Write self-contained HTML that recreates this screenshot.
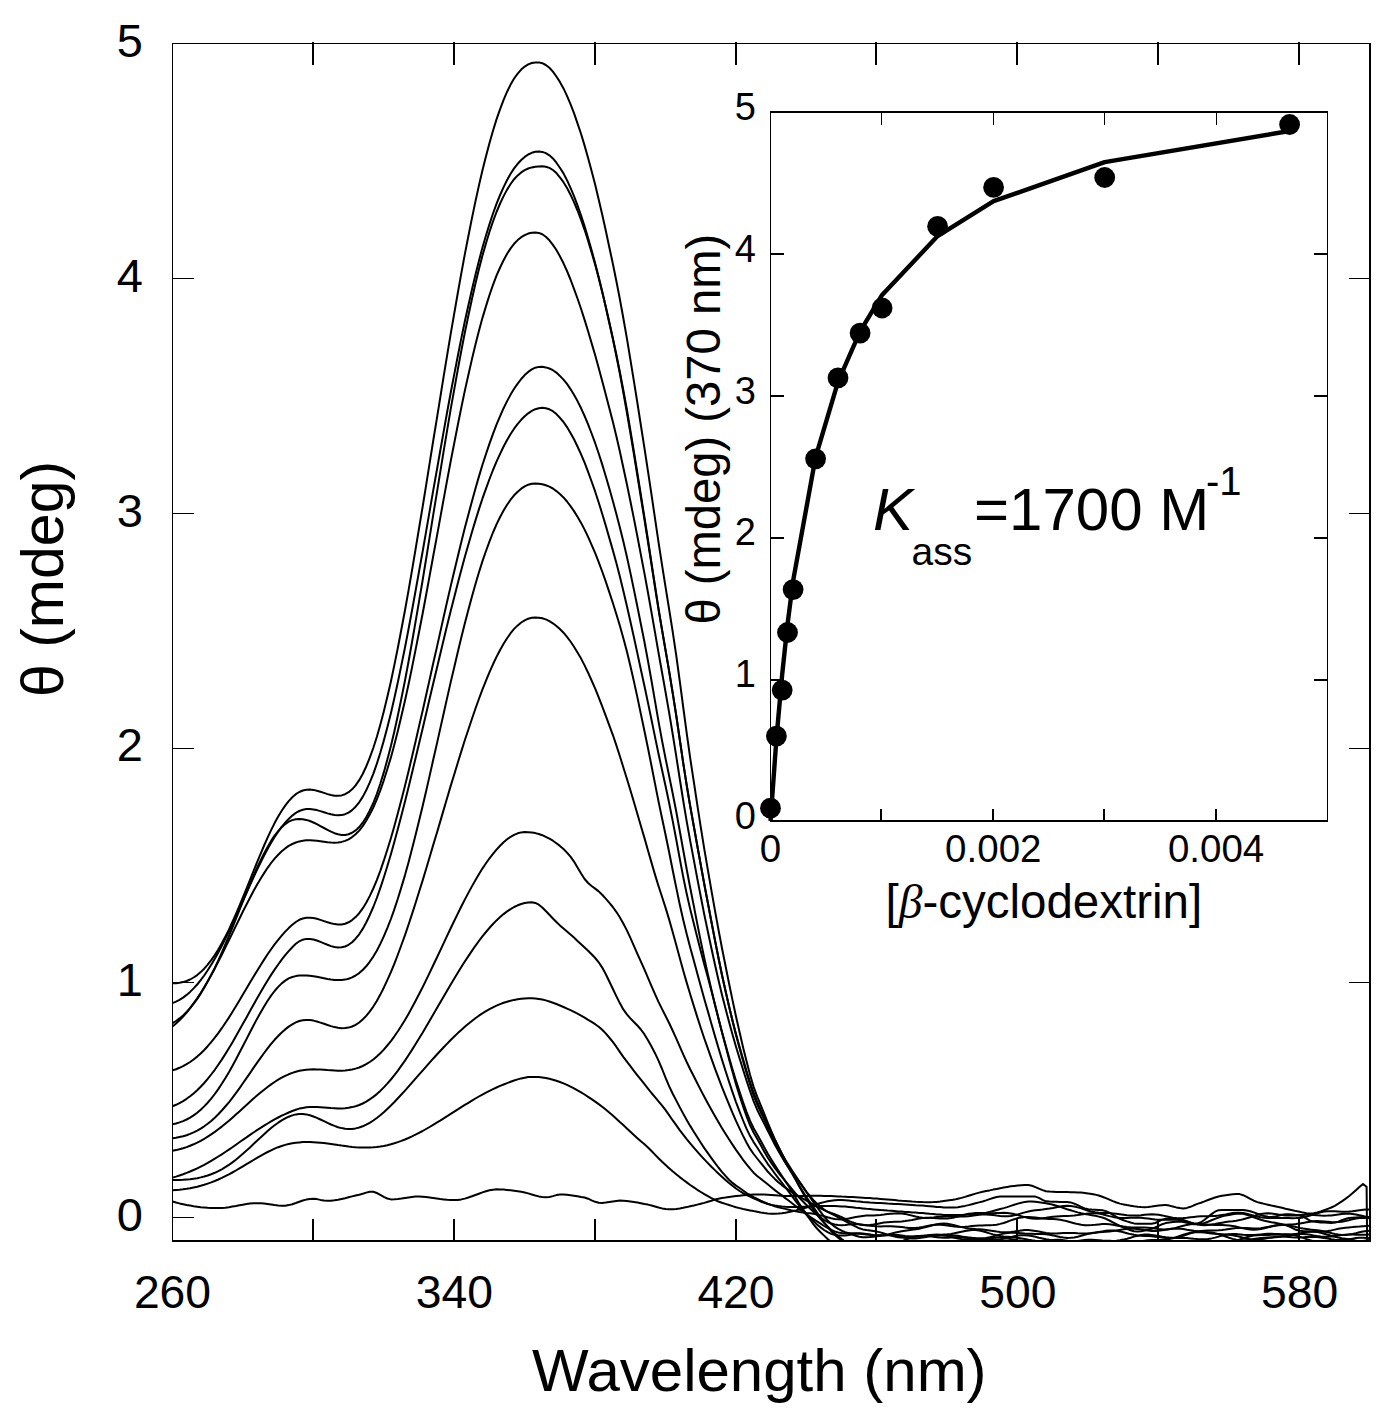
<!DOCTYPE html>
<html><head><meta charset="utf-8"><style>
html,body{margin:0;padding:0;background:#fff;}
body{width:1397px;height:1408px;overflow:hidden;}
svg{display:block;}
text{font-family:"Liberation Sans",sans-serif;fill:#000;}
</style></head><body>
<svg width="1397" height="1408" viewBox="0 0 1397 1408">
<defs><clipPath id="pc"><rect x="172" y="43" width="1198" height="1198"/></clipPath></defs>
<rect x="0" y="0" width="1397" height="1408" fill="#fff"/>
<g clip-path="url(#pc)" fill="none" stroke="#000" stroke-width="2" stroke-linejoin="round">
<path d="M172.5,983.2 L176.0,983.2 L179.5,982.8 L183.1,982.1 L186.6,981.0 L190.1,979.5 L193.6,977.5 L197.2,975.1 L200.7,972.1 L204.2,968.7 L207.7,964.7 L211.2,960.1 L214.8,955.1 L218.3,949.5 L221.8,943.3 L225.3,936.7 L228.9,929.6 L232.4,922.0 L235.9,914.1 L239.4,905.8 L242.9,897.3 L246.5,888.7 L250.0,879.9 L253.5,871.1 L257.0,862.4 L260.6,853.8 L264.1,845.5 L267.6,837.6 L271.1,830.1 L274.6,823.1 L278.2,816.6 L281.7,810.8 L285.2,805.6 L288.7,801.1 L292.3,797.3 L295.8,794.2 L299.3,792.0 L302.8,790.5 L306.3,789.7 L309.9,789.6 L313.4,789.9 L316.9,790.7 L320.4,791.8 L324.0,792.9 L327.5,794.1 L331.0,795.0 L334.5,795.7 L338.0,795.8 L341.6,795.4 L345.1,794.2 L348.6,792.2 L352.1,789.3 L355.6,785.3 L359.2,780.2 L362.7,774.0 L366.2,766.5 L369.7,757.9 L373.3,748.0 L376.8,737.0 L380.3,724.7 L383.8,711.4 L387.3,696.9 L390.9,681.4 L394.4,664.9 L397.9,647.5 L401.4,629.2 L405.0,610.2 L408.5,590.6 L412.0,570.3 L415.5,549.6 L419.0,528.5 L422.6,507.0 L426.1,485.3 L429.6,463.4 L433.1,441.5 L436.7,419.6 L440.2,397.8 L443.7,376.2 L447.2,354.8 L450.7,333.8 L454.3,313.1 L457.8,293.0 L461.3,273.4 L464.8,254.4 L468.4,236.0 L471.9,218.4 L475.4,201.6 L478.9,185.6 L482.4,170.5 L486.0,156.3 L489.5,143.0 L493.0,130.7 L496.5,119.4 L500.1,109.1 L503.6,99.9 L507.1,91.7 L510.6,84.6 L514.1,78.5 L517.7,73.6 L521.2,69.6 L524.7,66.6 L528.2,64.4 L531.8,63.0 L535.3,62.4 L538.8,62.4 L542.3,63.2 L545.8,65.0 L549.4,67.8 L552.9,71.6 L556.4,76.5 L559.9,81.9 L563.5,88.4 L567.0,95.9 L570.5,104.1 L574.0,113.2 L577.5,123.3 L581.1,134.0 L584.6,145.6 L588.1,158.0 L591.6,171.0 L595.2,184.8 L598.7,199.4 L602.2,214.5 L605.7,230.3 L609.2,246.7 L612.8,263.5 L616.3,280.7 L619.8,298.7 L623.3,318.0 L626.9,338.4 L630.4,359.6 L633.9,381.1 L637.4,403.0 L640.9,425.5 L644.5,448.3 L648.0,471.3 L651.5,494.7 L655.0,518.4 L658.5,542.1 L662.1,565.3 L665.6,587.4 L669.1,609.0 L672.6,631.2 L676.2,655.1 L679.7,680.7 L683.2,707.0 L686.7,733.1 L690.2,758.1 L693.8,781.7 L697.3,804.8 L700.8,827.3 L704.3,849.1 L707.9,870.2 L711.4,890.4 L714.9,910.1 L718.4,929.2 L721.9,947.7 L725.5,965.7 L729.0,983.2 L732.5,1000.1 L736.0,1016.5 L739.6,1032.3 L743.1,1047.4 L746.6,1061.6 L750.1,1075.0 L753.6,1086.9 L757.2,1096.6 L760.7,1105.2 L764.2,1113.7 L767.7,1122.6 L771.3,1131.2 L774.8,1139.2 L778.3,1146.6 L781.8,1153.7 L785.3,1160.4 L788.9,1166.8 L792.4,1173.3 L795.9,1180.0 L799.4,1186.7 L803.0,1193.1 L806.5,1199.0 L810.0,1204.5 L813.5,1209.8 L817.0,1214.7 L820.6,1219.1 L824.1,1222.9 L827.6,1226.5 L831.1,1229.9 L834.7,1233.2 L838.2,1236.3 L841.7,1239.1 L845.2,1241.7 L848.7,1243.8 L852.3,1245.1 L855.8,1245.6 L859.3,1245.6 L862.8,1245.4 L866.4,1245.3 L869.9,1245.2 L873.4,1245.2 L876.9,1245.3 L880.4,1245.4 L884.0,1245.4 L887.5,1245.2 L891.0,1244.7 L894.5,1243.9 L898.1,1242.8 L901.6,1241.4 L905.1,1240.0 L908.6,1238.6 L912.1,1237.4 L915.7,1236.5 L919.2,1236.0 L922.7,1235.7 L926.2,1235.7 L929.8,1235.7 L933.3,1235.7 L936.8,1235.7 L940.3,1235.5 L943.8,1235.4 L947.4,1235.2 L950.9,1235.2 L954.4,1235.4 L957.9,1235.8 L961.5,1236.5 L965.0,1237.2 L968.5,1238.0 L972.0,1238.7 L975.5,1239.1 L979.1,1239.2 L982.6,1239.1 L986.1,1238.7 L989.6,1238.3 L993.1,1237.9 L996.7,1237.6 L1000.2,1237.6 L1003.7,1237.9 L1007.2,1238.4 L1010.8,1239.1 L1014.3,1239.7 L1017.8,1240.3 L1021.3,1240.7 L1024.8,1240.9 L1028.4,1241.1 L1031.9,1241.1 L1035.4,1241.3 L1038.9,1241.6 L1042.5,1242.0 L1046.0,1242.6 L1049.5,1243.3 L1053.0,1243.9 L1056.5,1244.3 L1060.1,1244.4 L1063.6,1244.2 L1067.1,1243.7 L1070.6,1242.9 L1074.2,1242.0 L1077.7,1241.1 L1081.2,1240.4 L1084.7,1239.9 L1088.2,1239.7 L1091.8,1239.8 L1095.3,1240.0 L1098.8,1240.3 L1102.3,1240.6 L1105.9,1240.7 L1109.4,1240.8 L1112.9,1240.9 L1116.4,1241.0 L1119.9,1241.2 L1123.5,1241.7 L1127.0,1242.4 L1130.5,1243.4 L1134.0,1244.4 L1137.6,1245.5 L1141.1,1246.3 L1144.6,1247.0 L1148.1,1247.2 L1151.6,1247.1 L1155.2,1246.8 L1158.7,1246.2 L1162.2,1245.6 L1165.7,1245.0 L1169.3,1244.6 L1172.8,1244.4 L1176.3,1244.4 L1179.8,1244.3 L1183.3,1244.3 L1186.9,1244.1 L1190.4,1243.8 L1193.9,1243.2 L1197.4,1242.6 L1201.0,1242.0 L1204.5,1241.5 L1208.0,1241.1 L1211.5,1241.0 L1215.0,1241.1 L1218.6,1241.4 L1222.1,1241.6 L1225.6,1241.7 L1229.1,1241.6 L1232.7,1241.1 L1236.2,1240.4 L1239.7,1239.4 L1243.2,1238.3 L1246.7,1237.3 L1250.3,1236.3 L1253.8,1235.6 L1257.3,1235.2 L1260.8,1235.0 L1264.4,1234.9 L1267.9,1234.9 L1271.4,1234.8 L1274.9,1234.7 L1278.4,1234.6 L1282.0,1234.4 L1285.5,1234.3 L1289.0,1234.5 L1292.5,1234.9 L1296.0,1235.6 L1299.6,1236.6 L1303.1,1237.9 L1306.6,1239.1 L1310.1,1240.3 L1313.7,1241.2 L1317.2,1241.8 L1320.7,1242.1 L1324.2,1242.1 L1327.7,1241.9 L1331.3,1241.6 L1334.8,1241.4 L1338.3,1241.3 L1341.8,1241.3 L1345.4,1241.5 L1348.9,1241.6 L1352.4,1241.7 L1355.9,1241.7 L1359.4,1241.4 L1363.0,1241.1 L1366.5,1240.6 L1370.0,1240.1"/>
<path d="M172.5,1003.2 L176.0,1001.7 L179.5,999.8 L183.1,997.6 L186.6,994.9 L190.1,991.9 L193.6,988.4 L197.2,984.5 L200.7,980.2 L204.2,975.5 L207.7,970.3 L211.2,964.7 L214.8,958.8 L218.3,952.4 L221.8,945.7 L225.3,938.8 L228.9,931.5 L232.4,924.0 L235.9,916.3 L239.4,908.6 L242.9,900.7 L246.5,892.8 L250.0,885.0 L253.5,877.4 L257.0,869.9 L260.6,862.6 L264.1,855.6 L267.6,849.0 L271.1,842.8 L274.6,837.0 L278.2,831.7 L281.7,826.9 L285.2,822.7 L288.7,818.9 L292.3,815.6 L295.8,812.9 L299.3,811.0 L302.8,809.7 L306.3,809.1 L309.9,809.0 L313.4,809.4 L316.9,810.1 L320.4,811.1 L324.0,812.2 L327.5,813.4 L331.0,814.3 L334.5,815.0 L338.0,815.3 L341.6,815.1 L345.1,814.2 L348.6,812.6 L352.1,810.1 L355.6,806.7 L359.2,802.3 L362.7,796.9 L366.2,790.3 L369.7,782.7 L373.3,773.8 L376.8,763.9 L380.3,752.8 L383.8,740.6 L387.3,727.4 L390.9,713.2 L394.4,698.0 L397.9,682.0 L401.4,665.1 L405.0,647.5 L408.5,629.3 L412.0,610.5 L415.5,591.2 L419.0,571.6 L422.6,551.7 L426.1,531.6 L429.6,511.4 L433.1,491.2 L436.7,471.0 L440.2,451.0 L443.7,431.3 L447.2,411.8 L450.7,392.7 L454.3,374.1 L457.8,356.0 L461.3,338.4 L464.8,321.5 L468.4,305.3 L471.9,289.7 L475.4,275.0 L478.9,261.0 L482.4,247.8 L486.0,235.5 L489.5,224.1 L493.0,213.5 L496.5,203.8 L500.1,195.0 L503.6,187.1 L507.1,180.0 L510.6,173.8 L514.1,168.4 L517.7,163.8 L521.2,160.0 L524.7,156.9 L528.2,154.5 L531.8,152.8 L535.3,151.8 L538.8,151.5 L542.3,151.9 L545.8,153.1 L549.4,155.3 L552.9,158.4 L556.4,162.7 L559.9,167.7 L563.5,173.4 L567.0,180.2 L570.5,187.8 L574.0,196.1 L577.5,205.4 L581.1,215.5 L584.6,226.3 L588.1,238.0 L591.6,250.3 L595.2,263.4 L598.7,277.2 L602.2,291.6 L605.7,306.7 L609.2,322.5 L612.8,338.8 L616.3,355.5 L619.8,373.2 L623.3,392.4 L626.9,412.5 L630.4,433.2 L633.9,454.2 L637.4,475.8 L640.9,497.7 L644.5,519.9 L648.0,542.1 L651.5,564.7 L655.0,587.3 L658.5,609.3 L662.1,630.4 L665.6,650.5 L669.1,670.8 L672.6,692.3 L676.2,715.4 L679.7,739.2 L683.2,762.8 L686.7,785.2 L690.2,806.0 L693.8,826.1 L697.3,845.7 L700.8,865.1 L704.3,884.2 L707.9,903.1 L711.4,921.7 L714.9,940.0 L718.4,957.7 L721.9,974.7 L725.5,990.9 L729.0,1006.1 L732.5,1020.4 L736.0,1034.0 L739.6,1047.0 L743.1,1059.3 L746.6,1071.0 L750.1,1082.2 L753.6,1092.7 L757.2,1101.8 L760.7,1109.6 L764.2,1116.8 L767.7,1124.4 L771.3,1132.3 L774.8,1139.8 L778.3,1146.8 L781.8,1153.5 L785.3,1159.7 L788.9,1165.5 L792.4,1171.0 L795.9,1176.3 L799.4,1181.6 L803.0,1186.9 L806.5,1192.2 L810.0,1197.2 L813.5,1202.1 L817.0,1207.0 L820.6,1211.9 L824.1,1216.5 L827.6,1220.5 L831.1,1223.8 L834.7,1226.6 L838.2,1228.9 L841.7,1230.7 L845.2,1232.1 L848.7,1233.3 L852.3,1234.5 L855.8,1235.7 L859.3,1236.7 L862.8,1237.3 L866.4,1237.3 L869.9,1237.1 L873.4,1236.8 L876.9,1236.3 L880.4,1235.8 L884.0,1235.4 L887.5,1235.2 L891.0,1235.3 L894.5,1235.6 L898.1,1236.3 L901.6,1237.0 L905.1,1237.7 L908.6,1238.2 L912.1,1238.5 L915.7,1238.4 L919.2,1238.1 L922.7,1237.5 L926.2,1236.9 L929.8,1236.2 L933.3,1235.6 L936.8,1235.2 L940.3,1234.9 L943.8,1234.6 L947.4,1234.3 L950.9,1233.9 L954.4,1233.3 L957.9,1232.6 L961.5,1231.8 L965.0,1231.0 L968.5,1230.4 L972.0,1230.1 L975.5,1230.1 L979.1,1230.5 L982.6,1231.3 L986.1,1232.3 L989.6,1233.4 L993.1,1234.4 L996.7,1235.3 L1000.2,1236.0 L1003.7,1236.5 L1007.2,1236.8 L1010.8,1237.1 L1014.3,1237.4 L1017.8,1237.8 L1021.3,1238.4 L1024.8,1239.0 L1028.4,1239.7 L1031.9,1240.3 L1035.4,1240.7 L1038.9,1240.9 L1042.5,1240.8 L1046.0,1240.5 L1049.5,1240.2 L1053.0,1239.9 L1056.5,1239.7 L1060.1,1239.8 L1063.6,1240.2 L1067.1,1240.8 L1070.6,1241.6 L1074.2,1242.4 L1077.7,1243.0 L1081.2,1243.4 L1084.7,1243.5 L1088.2,1243.3 L1091.8,1243.0 L1095.3,1242.5 L1098.8,1242.1 L1102.3,1241.7 L1105.9,1241.4 L1109.4,1241.2 L1112.9,1241.0 L1116.4,1240.8 L1119.9,1240.3 L1123.5,1239.6 L1127.0,1238.7 L1130.5,1237.7 L1134.0,1236.6 L1137.6,1235.7 L1141.1,1234.9 L1144.6,1234.5 L1148.1,1234.5 L1151.6,1234.9 L1155.2,1235.4 L1158.7,1236.1 L1162.2,1236.8 L1165.7,1237.3 L1169.3,1237.6 L1172.8,1237.8 L1176.3,1237.9 L1179.8,1237.9 L1183.3,1237.9 L1186.9,1238.1 L1190.4,1238.4 L1193.9,1238.8 L1197.4,1239.1 L1201.0,1239.3 L1204.5,1239.3 L1208.0,1239.0 L1211.5,1238.4 L1215.0,1237.6 L1218.6,1236.6 L1222.1,1235.6 L1225.6,1234.8 L1229.1,1234.3 L1232.7,1234.1 L1236.2,1234.1 L1239.7,1234.4 L1243.2,1234.7 L1246.7,1234.9 L1250.3,1235.0 L1253.8,1235.0 L1257.3,1234.7 L1260.8,1234.4 L1264.4,1234.1 L1267.9,1233.8 L1271.4,1233.8 L1274.9,1233.9 L1278.4,1234.1 L1282.0,1234.4 L1285.5,1234.6 L1289.0,1234.6 L1292.5,1234.4 L1296.0,1234.0 L1299.6,1233.4 L1303.1,1232.7 L1306.6,1232.1 L1310.1,1231.8 L1313.7,1231.8 L1317.2,1232.1 L1320.7,1232.8 L1324.2,1233.7 L1327.7,1234.7 L1331.3,1235.8 L1334.8,1236.7 L1338.3,1237.5 L1341.8,1238.2 L1345.4,1238.7 L1348.9,1239.3 L1352.4,1239.9 L1355.9,1240.7 L1359.4,1241.5 L1363.0,1242.5 L1366.5,1243.3 L1370.0,1244.1"/>
<path d="M172.5,1023.1 L176.0,1021.0 L179.5,1018.4 L183.1,1015.4 L186.6,1012.0 L190.1,1008.1 L193.6,1003.7 L197.2,998.9 L200.7,993.6 L204.2,987.8 L207.7,981.6 L211.2,975.0 L214.8,967.9 L218.3,960.5 L221.8,952.6 L225.3,944.5 L228.9,936.2 L232.4,927.6 L235.9,918.9 L239.4,910.2 L242.9,901.4 L246.5,892.7 L250.0,884.2 L253.5,876.0 L257.0,868.0 L260.6,860.5 L264.1,853.4 L267.6,846.9 L271.1,840.9 L274.6,835.6 L278.2,831.1 L281.7,827.2 L285.2,824.1 L288.7,821.7 L292.3,820.1 L295.8,819.2 L299.3,818.9 L302.8,819.2 L306.3,819.9 L309.9,821.0 L313.4,822.5 L316.9,824.2 L320.4,826.1 L324.0,828.0 L327.5,829.9 L331.0,831.7 L334.5,833.2 L338.0,834.3 L341.6,834.9 L345.1,834.9 L348.6,834.2 L352.1,832.8 L355.6,830.4 L359.2,827.1 L362.7,822.7 L366.2,817.3 L369.7,810.7 L373.3,803.0 L376.8,794.0 L380.3,783.8 L383.8,772.4 L387.3,759.8 L390.9,746.1 L394.4,731.2 L397.9,715.3 L401.4,698.4 L405.0,680.5 L408.5,661.8 L412.0,642.3 L415.5,622.2 L419.0,601.6 L422.6,580.5 L426.1,559.0 L429.6,537.4 L433.1,515.6 L436.7,493.9 L440.2,472.3 L443.7,450.9 L447.2,429.8 L450.7,409.2 L454.3,389.1 L457.8,369.6 L461.3,350.8 L464.8,332.8 L468.4,315.5 L471.9,299.2 L475.4,283.7 L478.9,269.3 L482.4,255.8 L486.0,243.3 L489.5,231.8 L493.0,221.4 L496.5,212.0 L500.1,203.5 L503.6,196.1 L507.1,189.6 L510.6,184.0 L514.1,179.2 L517.7,175.4 L521.2,172.4 L524.7,170.1 L528.2,168.5 L531.8,167.4 L535.3,166.7 L538.8,166.4 L542.3,166.3 L545.8,166.7 L549.4,167.9 L552.9,170.0 L556.4,173.1 L559.9,177.3 L563.5,182.2 L567.0,187.9 L570.5,194.7 L574.0,202.2 L577.5,210.5 L581.1,219.8 L584.6,229.8 L588.1,240.7 L591.6,252.4 L595.2,264.8 L598.7,278.0 L602.2,291.9 L605.7,306.5 L609.2,321.8 L612.8,337.9 L616.3,354.5 L619.8,371.6 L623.3,390.0 L626.9,409.7 L630.4,430.4 L633.9,451.6 L637.4,473.1 L640.9,495.2 L644.5,517.6 L648.0,540.0 L651.5,562.8 L655.0,585.7 L658.5,608.3 L662.1,630.1 L665.6,650.7 L669.1,671.1 L672.6,692.3 L676.2,715.2 L679.7,739.0 L683.2,762.8 L686.7,785.4 L690.2,806.4 L693.8,826.3 L697.3,845.8 L700.8,865.1 L704.3,884.2 L707.9,903.1 L711.4,921.6 L714.9,939.8 L718.4,957.4 L721.9,974.5 L725.5,990.8 L729.0,1006.2 L732.5,1020.9 L736.0,1034.9 L739.6,1048.3 L743.1,1061.0 L746.6,1073.1 L750.1,1084.6 L753.6,1095.3 L757.2,1104.4 L760.7,1112.2 L764.2,1119.5 L767.7,1127.3 L771.3,1135.2 L774.8,1142.6 L778.3,1149.6 L781.8,1156.2 L785.3,1162.4 L788.9,1168.4 L792.4,1174.2 L795.9,1180.0 L799.4,1186.0 L803.0,1191.8 L806.5,1197.3 L810.0,1202.4 L813.5,1207.4 L817.0,1212.4 L820.6,1217.5 L824.1,1222.3 L827.6,1226.8 L831.1,1231.0 L834.7,1234.7 L838.2,1237.8 L841.7,1240.1 L845.2,1241.6 L848.7,1242.6 L852.3,1243.1 L855.8,1243.4 L859.3,1243.4 L862.8,1243.1 L866.4,1243.0 L869.9,1243.1 L873.4,1243.3 L876.9,1243.4 L880.4,1243.5 L884.0,1243.5 L887.5,1243.3 L891.0,1243.0 L894.5,1242.7 L898.1,1242.6 L901.6,1242.6 L905.1,1242.9 L908.6,1243.3 L912.1,1243.9 L915.7,1244.5 L919.2,1244.9 L922.7,1245.1 L926.2,1245.0 L929.8,1244.6 L933.3,1244.0 L936.8,1243.3 L940.3,1242.7 L943.8,1242.2 L947.4,1242.0 L950.9,1242.1 L954.4,1242.5 L957.9,1243.0 L961.5,1243.5 L965.0,1244.0 L968.5,1244.5 L972.0,1244.8 L975.5,1245.1 L979.1,1245.5 L982.6,1246.0 L986.1,1246.7 L989.6,1247.6 L993.1,1248.8 L996.7,1250.1 L1000.2,1251.3 L1003.7,1252.3 L1007.2,1253.1 L1010.8,1253.4 L1014.3,1253.4 L1017.8,1253.0 L1021.3,1252.5 L1024.8,1251.9 L1028.4,1251.3 L1031.9,1250.8 L1035.4,1250.5 L1038.9,1250.3 L1042.5,1250.1 L1046.0,1249.9 L1049.5,1249.5 L1053.0,1249.0 L1056.5,1248.3 L1060.1,1247.6 L1063.6,1246.9 L1067.1,1246.3 L1070.6,1245.9 L1074.2,1245.8 L1077.7,1246.0 L1081.2,1246.3 L1084.7,1246.7 L1088.2,1246.9 L1091.8,1247.0 L1095.3,1246.8 L1098.8,1246.3 L1102.3,1245.5 L1105.9,1244.7 L1109.4,1243.9 L1112.9,1243.2 L1116.4,1242.7 L1119.9,1242.4 L1123.5,1242.4 L1127.0,1242.4 L1130.5,1242.5 L1134.0,1242.4 L1137.6,1242.3 L1141.1,1242.1 L1144.6,1241.8 L1148.1,1241.6 L1151.6,1241.6 L1155.2,1241.9 L1158.7,1242.4 L1162.2,1243.2 L1165.7,1244.1 L1169.3,1245.1 L1172.8,1246.0 L1176.3,1246.6 L1179.8,1246.9 L1183.3,1246.9 L1186.9,1246.5 L1190.4,1246.0 L1193.9,1245.4 L1197.4,1244.9 L1201.0,1244.4 L1204.5,1244.1 L1208.0,1243.9 L1211.5,1243.8 L1215.0,1243.6 L1218.6,1243.2 L1222.1,1242.7 L1225.6,1242.1 L1229.1,1241.4 L1232.7,1240.8 L1236.2,1240.4 L1239.7,1240.3 L1243.2,1240.5 L1246.7,1241.1 L1250.3,1241.9 L1253.8,1242.9 L1257.3,1243.8 L1260.8,1244.6 L1264.4,1245.1 L1267.9,1245.4 L1271.4,1245.5 L1274.9,1245.5 L1278.4,1245.5 L1282.0,1245.6 L1285.5,1245.8 L1289.0,1246.2 L1292.5,1246.8 L1296.0,1247.3 L1299.6,1247.8 L1303.1,1248.1 L1306.6,1248.2 L1310.1,1248.1 L1313.7,1248.0 L1317.2,1247.9 L1320.7,1247.9 L1324.2,1248.1 L1327.7,1248.6 L1331.3,1249.4 L1334.8,1250.3 L1338.3,1251.3 L1341.8,1252.2 L1345.4,1252.8 L1348.9,1253.1 L1352.4,1253.1 L1355.9,1252.8 L1359.4,1252.3 L1363.0,1251.7 L1366.5,1251.1 L1370.0,1250.6"/>
<path d="M172.5,1026.6 L176.0,1023.6 L179.5,1020.3 L183.1,1016.6 L186.6,1012.6 L190.1,1008.2 L193.6,1003.4 L197.2,998.4 L200.7,993.0 L204.2,987.2 L207.7,981.2 L211.2,974.9 L214.8,968.4 L218.3,961.6 L221.8,954.7 L225.3,947.6 L228.9,940.4 L232.4,933.1 L235.9,925.9 L239.4,918.7 L242.9,911.5 L246.5,904.5 L250.0,897.7 L253.5,891.0 L257.0,884.7 L260.6,878.7 L264.1,873.1 L267.6,867.8 L271.1,863.0 L274.6,858.6 L278.2,854.7 L281.7,851.3 L285.2,848.4 L288.7,845.9 L292.3,844.0 L295.8,842.5 L299.3,841.4 L302.8,840.7 L306.3,840.3 L309.9,840.3 L313.4,840.5 L316.9,840.8 L320.4,841.3 L324.0,841.8 L327.5,842.3 L331.0,842.6 L334.5,842.7 L338.0,842.5 L341.6,841.9 L345.1,840.9 L348.6,839.3 L352.1,837.1 L355.6,834.2 L359.2,830.6 L362.7,826.1 L366.2,820.8 L369.7,814.6 L373.3,807.5 L376.8,799.4 L380.3,790.3 L383.8,780.3 L387.3,769.3 L390.9,757.4 L394.4,744.5 L397.9,730.7 L401.4,716.1 L405.0,700.6 L408.5,684.5 L412.0,667.6 L415.5,650.1 L419.0,632.2 L422.6,613.7 L426.1,595.0 L429.6,575.9 L433.1,556.7 L436.7,537.4 L440.2,518.1 L443.7,498.9 L447.2,479.9 L450.7,461.2 L454.3,442.9 L457.8,425.0 L461.3,407.6 L464.8,390.9 L468.4,374.8 L471.9,359.4 L475.4,344.8 L478.9,331.0 L482.4,318.1 L486.0,306.1 L489.5,295.0 L493.0,284.9 L496.5,275.7 L500.1,267.5 L503.6,260.2 L507.1,253.8 L510.6,248.4 L514.1,243.8 L517.7,240.1 L521.2,237.2 L524.7,235.1 L528.2,233.6 L531.8,232.8 L535.3,232.5 L538.8,232.9 L542.3,234.3 L545.8,236.7 L549.4,240.3 L552.9,244.9 L556.4,250.0 L559.9,256.2 L563.5,263.3 L567.0,271.0 L570.5,279.5 L574.0,288.8 L577.5,298.5 L581.1,309.0 L584.6,319.9 L588.1,331.2 L591.6,343.1 L595.2,355.3 L598.7,367.9 L602.2,380.9 L605.7,394.2 L609.2,407.7 L612.8,421.5 L616.3,435.9 L619.8,451.3 L623.3,467.5 L626.9,484.2 L630.4,501.2 L633.9,518.6 L637.4,536.5 L640.9,554.9 L644.5,573.6 L648.0,592.7 L651.5,612.4 L655.0,632.4 L658.5,652.6 L662.1,672.7 L665.6,692.4 L669.1,712.4 L672.6,733.5 L676.2,755.9 L679.7,778.5 L683.2,800.5 L686.7,821.4 L690.2,840.9 L693.8,859.9 L697.3,878.6 L700.8,896.8 L704.3,914.6 L707.9,931.7 L711.4,948.3 L714.9,964.3 L718.4,979.7 L721.9,994.4 L725.5,1008.5 L729.0,1021.8 L732.5,1034.5 L736.0,1046.7 L739.6,1058.5 L743.1,1069.8 L746.6,1080.7 L750.1,1091.1 L753.6,1101.1 L757.2,1109.7 L760.7,1116.9 L764.2,1123.6 L767.7,1130.5 L771.3,1137.6 L774.8,1144.5 L778.3,1150.8 L781.8,1156.8 L785.3,1162.4 L788.9,1167.6 L792.4,1172.5 L795.9,1177.3 L799.4,1182.2 L803.0,1187.1 L806.5,1191.9 L810.0,1196.2 L813.5,1200.1 L817.0,1203.6 L820.6,1206.8 L824.1,1209.6 L827.6,1211.8 L831.1,1213.7 L834.7,1215.4 L838.2,1217.3 L841.7,1219.1 L845.2,1221.0 L848.7,1222.9 L852.3,1224.9 L855.8,1226.7 L859.3,1228.3 L862.8,1229.4 L866.4,1230.0 L869.9,1230.4 L873.4,1230.9 L876.9,1231.6 L880.4,1232.4 L884.0,1233.5 L887.5,1234.6 L891.0,1235.6 L894.5,1236.6 L898.1,1237.2 L901.6,1237.6 L905.1,1237.6 L908.6,1237.3 L912.1,1236.8 L915.7,1236.4 L919.2,1236.0 L922.7,1235.9 L926.2,1236.0 L929.8,1236.3 L933.3,1236.7 L936.8,1237.2 L940.3,1237.5 L943.8,1237.7 L947.4,1237.7 L950.9,1237.5 L954.4,1237.3 L957.9,1237.1 L961.5,1237.1 L965.0,1237.2 L968.5,1237.4 L972.0,1237.8 L975.5,1238.1 L979.1,1238.3 L982.6,1238.3 L986.1,1237.9 L989.6,1237.3 L993.1,1236.4 L996.7,1235.4 L1000.2,1234.4 L1003.7,1233.6 L1007.2,1233.0 L1010.8,1232.7 L1014.3,1232.8 L1017.8,1233.0 L1021.3,1233.3 L1024.8,1233.6 L1028.4,1233.8 L1031.9,1233.8 L1035.4,1233.9 L1038.9,1233.9 L1042.5,1234.0 L1046.0,1234.3 L1049.5,1234.7 L1053.0,1235.4 L1056.5,1236.2 L1060.1,1237.0 L1063.6,1237.5 L1067.1,1237.9 L1070.6,1237.8 L1074.2,1237.4 L1077.7,1236.7 L1081.2,1235.8 L1084.7,1234.8 L1088.2,1233.8 L1091.8,1233.1 L1095.3,1232.5 L1098.8,1232.2 L1102.3,1231.9 L1105.9,1231.7 L1109.4,1231.4 L1112.9,1231.0 L1116.4,1230.5 L1119.9,1229.9 L1123.5,1229.3 L1127.0,1228.9 L1130.5,1228.6 L1134.0,1228.7 L1137.6,1229.0 L1141.1,1229.5 L1144.6,1230.0 L1148.1,1230.5 L1151.6,1230.9 L1155.2,1230.9 L1158.7,1230.7 L1162.2,1230.3 L1165.7,1229.7 L1169.3,1229.2 L1172.8,1228.8 L1176.3,1228.7 L1179.8,1228.8 L1183.3,1229.1 L1186.9,1229.7 L1190.4,1230.2 L1193.9,1230.8 L1197.4,1231.2 L1201.0,1231.6 L1204.5,1231.9 L1208.0,1232.2 L1211.5,1232.6 L1215.0,1233.3 L1218.6,1234.2 L1222.1,1235.3 L1225.6,1236.5 L1229.1,1237.8 L1232.7,1238.9 L1236.2,1239.8 L1239.7,1240.3 L1243.2,1240.4 L1246.7,1240.1 L1250.3,1239.7 L1253.8,1239.1 L1257.3,1238.5 L1260.8,1238.0 L1264.4,1237.7 L1267.9,1237.5 L1271.4,1237.4 L1274.9,1237.2 L1278.4,1236.9 L1282.0,1236.5 L1285.5,1235.9 L1289.0,1235.2 L1292.5,1234.6 L1296.0,1234.1 L1299.6,1233.8 L1303.1,1233.9 L1306.6,1234.2 L1310.1,1234.8 L1313.7,1235.5 L1317.2,1236.1 L1320.7,1236.6 L1324.2,1236.8 L1327.7,1236.7 L1331.3,1236.4 L1334.8,1235.9 L1338.3,1235.4 L1341.8,1235.0 L1345.4,1234.7 L1348.9,1234.6 L1352.4,1234.6 L1355.9,1234.7 L1359.4,1234.8 L1363.0,1234.8 L1366.5,1234.7 L1370.0,1234.3"/>
<path d="M172.5,1070.3 L176.0,1069.2 L179.5,1067.8 L183.1,1066.2 L186.6,1064.2 L190.1,1062.0 L193.6,1059.5 L197.2,1056.6 L200.7,1053.5 L204.2,1050.0 L207.7,1046.2 L211.2,1042.1 L214.8,1037.7 L218.3,1033.1 L221.8,1028.2 L225.3,1023.0 L228.9,1017.6 L232.4,1012.0 L235.9,1006.3 L239.4,1000.5 L242.9,994.6 L246.5,988.6 L250.0,982.6 L253.5,976.7 L257.0,970.9 L260.6,965.2 L264.1,959.6 L267.6,954.3 L271.1,949.2 L274.6,944.3 L278.2,939.8 L281.7,935.6 L285.2,931.6 L288.7,928.1 L292.3,924.8 L295.8,922.0 L299.3,919.8 L302.8,918.5 L306.3,917.8 L309.9,917.7 L313.4,918.1 L316.9,918.8 L320.4,919.9 L324.0,921.1 L327.5,922.3 L331.0,923.3 L334.5,924.1 L338.0,924.5 L341.6,924.4 L345.1,923.7 L348.6,922.3 L352.1,920.1 L355.6,917.1 L359.2,913.2 L362.7,908.4 L366.2,902.7 L369.7,896.1 L373.3,888.5 L376.8,880.1 L380.3,870.8 L383.8,860.7 L387.3,849.8 L390.9,838.2 L394.4,826.0 L397.9,813.1 L401.4,799.7 L405.0,785.8 L408.5,771.4 L412.0,756.7 L415.5,741.7 L419.0,726.4 L422.6,710.9 L426.1,695.3 L429.6,679.6 L433.1,663.8 L436.7,648.1 L440.2,632.4 L443.7,616.8 L447.2,601.3 L450.7,586.1 L454.3,571.1 L457.8,556.5 L461.3,542.1 L464.8,528.1 L468.4,514.5 L471.9,501.4 L475.4,488.8 L478.9,476.6 L482.4,465.0 L486.0,454.0 L489.5,443.6 L493.0,433.8 L496.5,424.6 L500.1,416.1 L503.6,408.2 L507.1,401.1 L510.6,394.6 L514.1,388.8 L517.7,383.6 L521.2,379.0 L524.7,375.1 L528.2,371.9 L531.8,369.4 L535.3,367.7 L538.8,366.9 L542.3,366.8 L545.8,367.4 L549.4,368.5 L552.9,370.2 L556.4,372.6 L559.9,375.9 L563.5,379.6 L567.0,383.9 L570.5,389.1 L574.0,394.8 L577.5,401.1 L581.1,408.3 L584.6,416.0 L588.1,424.4 L591.6,433.5 L595.2,443.2 L598.7,453.5 L602.2,464.4 L605.7,476.0 L609.2,488.0 L612.8,500.7 L616.3,513.8 L619.8,527.2 L623.3,541.3 L626.9,556.7 L630.4,572.9 L633.9,589.6 L637.4,606.7 L640.9,624.3 L644.5,642.3 L648.0,661.1 L651.5,680.7 L655.0,701.1 L658.5,721.4 L662.1,740.9 L665.6,758.7 L669.1,775.7 L672.6,793.0 L676.2,811.3 L679.7,830.5 L683.2,850.0 L686.7,869.2 L690.2,887.7 L693.8,905.9 L697.3,923.9 L700.8,941.4 L704.3,958.3 L707.9,974.4 L711.4,989.8 L714.9,1004.4 L718.4,1018.4 L721.9,1031.9 L725.5,1044.8 L729.0,1057.2 L732.5,1069.2 L736.0,1080.7 L739.6,1091.7 L743.1,1102.2 L746.6,1112.1 L750.1,1120.9 L753.6,1128.2 L757.2,1134.5 L760.7,1140.7 L764.2,1147.2 L767.7,1153.5 L771.3,1159.4 L774.8,1165.0 L778.3,1170.5 L781.8,1175.8 L785.3,1181.1 L788.9,1186.5 L792.4,1192.3 L795.9,1198.1 L799.4,1203.9 L803.0,1209.3 L806.5,1214.6 L810.0,1219.5 L813.5,1224.3 L817.0,1228.5 L820.6,1232.2 L824.1,1235.6 L827.6,1238.9 L831.1,1241.9 L834.7,1244.7 L838.2,1247.2 L841.7,1249.4 L845.2,1251.1 L848.7,1251.9 L852.3,1252.0 L855.8,1251.7 L859.3,1251.3 L862.8,1251.0 L866.4,1250.8 L869.9,1250.8 L873.4,1251.0 L876.9,1251.2 L880.4,1251.4 L884.0,1251.5 L887.5,1251.2 L891.0,1250.6 L894.5,1249.7 L898.1,1248.5 L901.6,1247.2 L905.1,1245.9 L908.6,1244.8 L912.1,1243.9 L915.7,1243.3 L919.2,1242.9 L922.7,1242.7 L926.2,1242.6 L929.8,1242.5 L933.3,1242.3 L936.8,1242.0 L940.3,1241.8 L943.8,1241.6 L947.4,1241.6 L950.9,1241.9 L954.4,1242.5 L957.9,1243.4 L961.5,1244.4 L965.0,1245.5 L968.5,1246.5 L972.0,1247.2 L975.5,1247.7 L979.1,1247.8 L982.6,1247.6 L986.1,1247.3 L989.6,1246.9 L993.1,1246.6 L996.7,1246.5 L1000.2,1246.6 L1003.7,1246.8 L1007.2,1247.0 L1010.8,1247.3 L1014.3,1247.4 L1017.8,1247.3 L1021.3,1247.1 L1024.8,1246.8 L1028.4,1246.6 L1031.9,1246.4 L1035.4,1246.5 L1038.9,1246.8 L1042.5,1247.4 L1046.0,1248.1 L1049.5,1248.9 L1053.0,1249.5 L1056.5,1249.9 L1060.1,1250.0 L1063.6,1249.8 L1067.1,1249.4 L1070.6,1248.8 L1074.2,1248.2 L1077.7,1247.8 L1081.2,1247.5 L1084.7,1247.4 L1088.2,1247.5 L1091.8,1247.7 L1095.3,1248.0 L1098.8,1248.1 L1102.3,1248.2 L1105.9,1248.1 L1109.4,1248.0 L1112.9,1248.0 L1116.4,1248.2 L1119.9,1248.6 L1123.5,1249.3 L1127.0,1250.3 L1130.5,1251.4 L1134.0,1252.6 L1137.6,1253.7 L1141.1,1254.5 L1144.6,1255.0 L1148.1,1255.2 L1151.6,1255.0 L1155.2,1254.6 L1158.7,1254.2 L1162.2,1253.7 L1165.7,1253.3 L1169.3,1253.0 L1172.8,1252.7 L1176.3,1252.5 L1179.8,1252.1 L1183.3,1251.6 L1186.9,1250.8 L1190.4,1249.9 L1193.9,1248.9 L1197.4,1247.8 L1201.0,1247.0 L1204.5,1246.4 L1208.0,1246.1 L1211.5,1246.0 L1215.0,1246.3 L1218.6,1246.6 L1222.1,1246.9 L1225.6,1247.0 L1229.1,1246.9 L1232.7,1246.5 L1236.2,1246.0 L1239.7,1245.3 L1243.2,1244.6 L1246.7,1244.1 L1250.3,1243.7 L1253.8,1243.5 L1257.3,1243.5 L1260.8,1243.5 L1264.4,1243.5 L1267.9,1243.5 L1271.4,1243.3 L1274.9,1242.9 L1278.4,1242.6 L1282.0,1242.2 L1285.5,1242.1 L1289.0,1242.3 L1292.5,1242.8 L1296.0,1243.7 L1299.6,1244.7 L1303.1,1245.9 L1306.6,1247.1 L1310.1,1248.0 L1313.7,1248.7 L1317.2,1249.1 L1320.7,1249.2 L1324.2,1249.2 L1327.7,1249.0 L1331.3,1248.9 L1334.8,1248.9 L1338.3,1249.0 L1341.8,1249.1 L1345.4,1249.2 L1348.9,1249.1 L1352.4,1248.8 L1355.9,1248.3 L1359.4,1247.7 L1363.0,1246.9 L1366.5,1246.1 L1370.0,1245.5"/>
<path d="M172.5,1106.2 L176.0,1104.8 L179.5,1103.1 L183.1,1101.1 L186.6,1098.8 L190.1,1096.3 L193.6,1093.4 L197.2,1090.3 L200.7,1086.8 L204.2,1083.0 L207.7,1078.9 L211.2,1074.5 L214.8,1069.8 L218.3,1064.8 L221.8,1059.6 L225.3,1054.1 L228.9,1048.3 L232.4,1042.4 L235.9,1036.3 L239.4,1030.1 L242.9,1023.8 L246.5,1017.5 L250.0,1011.1 L253.5,1004.7 L257.0,998.5 L260.6,992.3 L264.1,986.3 L267.6,980.5 L271.1,974.9 L274.6,969.6 L278.2,964.5 L281.7,959.7 L285.2,955.2 L288.7,951.1 L292.3,947.2 L295.8,943.8 L299.3,941.3 L302.8,939.7 L306.3,938.9 L309.9,938.9 L313.4,939.5 L316.9,940.5 L320.4,941.9 L324.0,943.4 L327.5,944.8 L331.0,946.1 L334.5,947.0 L338.0,947.5 L341.6,947.3 L345.1,946.5 L348.6,944.8 L352.1,942.2 L355.6,938.7 L359.2,934.3 L362.7,928.9 L366.2,922.5 L369.7,915.2 L373.3,907.0 L376.8,898.0 L380.3,888.1 L383.8,877.5 L387.3,866.2 L390.9,854.3 L394.4,841.8 L397.9,828.8 L401.4,815.4 L405.0,801.6 L408.5,787.4 L412.0,773.0 L415.5,758.4 L419.0,743.7 L422.6,728.8 L426.1,713.8 L429.6,698.8 L433.1,683.9 L436.7,669.0 L440.2,654.2 L443.7,639.6 L447.2,625.1 L450.7,610.9 L454.3,596.9 L457.8,583.3 L461.3,569.9 L464.8,557.0 L468.4,544.4 L471.9,532.3 L475.4,520.6 L478.9,509.4 L482.4,498.7 L486.0,488.6 L489.5,479.0 L493.0,470.0 L496.5,461.6 L500.1,453.8 L503.6,446.5 L507.1,440.0 L510.6,434.0 L514.1,428.7 L517.7,423.9 L521.2,419.8 L524.7,416.2 L528.2,413.3 L531.8,410.9 L535.3,409.2 L538.8,408.2 L542.3,407.8 L545.8,408.2 L549.4,409.3 L552.9,411.2 L556.4,414.1 L559.9,417.8 L563.5,422.0 L567.0,427.1 L570.5,432.9 L574.0,439.3 L577.5,446.5 L581.1,454.3 L584.6,462.7 L588.1,471.8 L591.6,481.5 L595.2,491.7 L598.7,502.5 L602.2,513.7 L605.7,525.4 L609.2,537.6 L612.8,550.1 L616.3,562.8 L619.8,576.3 L623.3,590.8 L626.9,605.9 L630.4,621.5 L633.9,637.3 L637.4,653.4 L640.9,669.8 L644.5,686.3 L648.0,702.9 L651.5,719.8 L655.0,736.9 L658.5,753.8 L662.1,770.2 L665.6,786.3 L669.1,802.8 L672.6,820.4 L676.2,839.3 L679.7,858.4 L683.2,876.9 L686.7,893.8 L690.2,909.1 L693.8,923.6 L697.3,937.6 L700.8,951.2 L704.3,964.4 L707.9,977.6 L711.4,990.8 L714.9,1004.2 L718.4,1017.9 L721.9,1031.7 L725.5,1045.4 L729.0,1058.9 L732.5,1071.8 L736.0,1084.2 L739.6,1095.8 L743.1,1106.4 L746.6,1116.3 L750.1,1125.3 L753.6,1132.5 L757.2,1138.8 L760.7,1145.1 L764.2,1151.5 L767.7,1157.5 L771.3,1162.9 L774.8,1167.9 L778.3,1172.5 L781.8,1176.8 L785.3,1181.1 L788.9,1185.4 L792.4,1189.7 L795.9,1194.0 L799.4,1197.8 L803.0,1201.5 L806.5,1205.0 L810.0,1208.5 L813.5,1211.8 L817.0,1214.8 L820.6,1217.6 L824.1,1220.0 L827.6,1222.0 L831.1,1223.5 L834.7,1224.4 L838.2,1225.0 L841.7,1225.3 L845.2,1225.1 L848.7,1224.6 L852.3,1224.2 L855.8,1224.1 L859.3,1224.3 L862.8,1224.7 L866.4,1225.2 L869.9,1225.7 L873.4,1226.1 L876.9,1226.3 L880.4,1226.4 L884.0,1226.3 L887.5,1226.2 L891.0,1226.2 L894.5,1226.4 L898.1,1226.7 L901.6,1227.1 L905.1,1227.6 L908.6,1227.9 L912.1,1228.0 L915.7,1227.9 L919.2,1227.5 L922.7,1226.9 L926.2,1226.2 L929.8,1225.5 L933.3,1225.0 L936.8,1224.8 L940.3,1224.8 L943.8,1225.1 L947.4,1225.6 L950.9,1226.1 L954.4,1226.5 L957.9,1226.8 L961.5,1226.9 L965.0,1226.7 L968.5,1226.4 L972.0,1226.0 L975.5,1225.7 L979.1,1225.5 L982.6,1225.4 L986.1,1225.3 L989.6,1225.3 L993.1,1225.1 L996.7,1224.7 L1000.2,1223.9 L1003.7,1223.0 L1007.2,1221.7 L1010.8,1220.4 L1014.3,1219.2 L1017.8,1218.1 L1021.3,1217.4 L1024.8,1217.0 L1028.4,1216.9 L1031.9,1217.2 L1035.4,1217.6 L1038.9,1218.0 L1042.5,1218.4 L1046.0,1218.7 L1049.5,1218.9 L1053.0,1219.1 L1056.5,1219.3 L1060.1,1219.8 L1063.6,1220.4 L1067.1,1221.2 L1070.6,1222.2 L1074.2,1223.2 L1077.7,1224.1 L1081.2,1224.8 L1084.7,1225.2 L1088.2,1225.3 L1091.8,1225.1 L1095.3,1224.8 L1098.8,1224.4 L1102.3,1224.1 L1105.9,1224.1 L1109.4,1224.3 L1112.9,1224.8 L1116.4,1225.4 L1119.9,1226.0 L1123.5,1226.6 L1127.0,1227.1 L1130.5,1227.3 L1134.0,1227.4 L1137.6,1227.4 L1141.1,1227.4 L1144.6,1227.5 L1148.1,1227.7 L1151.6,1228.0 L1155.2,1228.5 L1158.7,1229.0 L1162.2,1229.3 L1165.7,1229.4 L1169.3,1229.1 L1172.8,1228.6 L1176.3,1227.8 L1179.8,1226.8 L1183.3,1225.8 L1186.9,1224.9 L1190.4,1224.3 L1193.9,1223.9 L1197.4,1223.9 L1201.0,1224.0 L1204.5,1224.3 L1208.0,1224.6 L1211.5,1224.8 L1215.0,1225.0 L1218.6,1225.0 L1222.1,1225.1 L1225.6,1225.2 L1229.1,1225.4 L1232.7,1225.9 L1236.2,1226.6 L1239.7,1227.5 L1243.2,1228.3 L1246.7,1229.1 L1250.3,1229.6 L1253.8,1229.7 L1257.3,1229.5 L1260.8,1229.0 L1264.4,1228.2 L1267.9,1227.3 L1271.4,1226.5 L1274.9,1225.8 L1278.4,1225.3 L1282.0,1225.0 L1285.5,1224.8 L1289.0,1224.6 L1292.5,1224.4 L1296.0,1224.1 L1299.6,1223.6 L1303.1,1222.9 L1306.6,1222.3 L1310.1,1221.7 L1313.7,1221.3 L1317.2,1221.1 L1320.7,1221.2 L1324.2,1221.5 L1327.7,1221.8 L1331.3,1222.1 L1334.8,1222.3 L1338.3,1222.1 L1341.8,1221.7 L1345.4,1221.0 L1348.9,1220.2 L1352.4,1219.3 L1355.9,1218.6 L1359.4,1218.1 L1363.0,1217.9 L1366.5,1217.9 L1370.0,1218.2"/>
<path d="M172.5,1124.3 L176.0,1123.5 L179.5,1122.4 L183.1,1121.1 L186.6,1119.5 L190.1,1117.6 L193.6,1115.4 L197.2,1112.8 L200.7,1109.8 L204.2,1106.4 L207.7,1102.7 L211.2,1098.6 L214.8,1094.0 L218.3,1089.1 L221.8,1083.8 L225.3,1078.2 L228.9,1072.2 L232.4,1066.0 L235.9,1059.5 L239.4,1052.8 L242.9,1046.0 L246.5,1039.1 L250.0,1032.3 L253.5,1025.5 L257.0,1018.9 L260.6,1012.5 L264.1,1006.5 L267.6,1000.8 L271.1,995.6 L274.6,991.0 L278.2,986.9 L281.7,983.4 L285.2,980.6 L288.7,978.4 L292.3,977.0 L295.8,976.1 L299.3,975.6 L302.8,975.4 L306.3,975.5 L309.9,975.8 L313.4,976.2 L316.9,976.8 L320.4,977.5 L324.0,978.2 L327.5,978.9 L331.0,979.5 L334.5,979.9 L338.0,980.1 L341.6,980.0 L345.1,979.6 L348.6,978.7 L352.1,977.4 L355.6,975.5 L359.2,973.1 L362.7,970.0 L366.2,966.3 L369.7,961.8 L373.3,956.6 L376.8,950.7 L380.3,943.9 L383.8,936.4 L387.3,928.1 L390.9,919.0 L394.4,909.1 L397.9,898.5 L401.4,887.1 L405.0,875.1 L408.5,862.4 L412.0,849.1 L415.5,835.3 L419.0,821.0 L422.6,806.3 L426.1,791.2 L429.6,775.9 L433.1,760.3 L436.7,744.6 L440.2,728.9 L443.7,713.2 L447.2,697.6 L450.7,682.1 L454.3,666.9 L457.8,652.0 L461.3,637.4 L464.8,623.4 L468.4,609.8 L471.9,596.7 L475.4,584.3 L478.9,572.5 L482.4,561.4 L486.0,551.0 L489.5,541.4 L493.0,532.5 L496.5,524.4 L500.1,517.0 L503.6,510.5 L507.1,504.7 L510.6,499.7 L514.1,495.3 L517.7,491.7 L521.2,488.7 L524.7,486.4 L528.2,484.7 L531.8,483.8 L535.3,483.4 L538.8,483.7 L542.3,484.3 L545.8,485.3 L549.4,486.6 L552.9,488.5 L556.4,491.1 L559.9,494.1 L563.5,497.4 L567.0,501.5 L570.5,506.1 L574.0,511.1 L577.5,516.7 L581.1,522.9 L584.6,529.6 L588.1,536.9 L591.6,544.8 L595.2,553.2 L598.7,562.1 L602.2,571.5 L605.7,581.4 L609.2,591.9 L612.8,602.8 L616.3,614.0 L619.8,625.5 L623.3,637.9 L626.9,651.4 L630.4,666.0 L633.9,681.4 L637.4,697.4 L640.9,714.1 L644.5,731.2 L648.0,748.3 L651.5,765.7 L655.0,783.6 L658.5,801.4 L662.1,818.5 L665.6,835.0 L669.1,852.0 L672.6,869.7 L676.2,887.4 L679.7,904.2 L683.2,919.7 L686.7,933.9 L690.2,947.5 L693.8,960.6 L697.3,973.5 L700.8,986.2 L704.3,998.9 L707.9,1011.4 L711.4,1023.8 L714.9,1035.9 L718.4,1047.8 L721.9,1059.4 L725.5,1070.7 L729.0,1081.6 L732.5,1092.1 L736.0,1102.1 L739.6,1111.6 L743.1,1120.5 L746.6,1128.9 L750.1,1136.1 L753.6,1142.1 L757.2,1147.5 L760.7,1153.0 L764.2,1158.5 L767.7,1163.8 L771.3,1168.7 L774.8,1173.5 L778.3,1178.1 L781.8,1182.6 L785.3,1187.2 L788.9,1191.8 L792.4,1196.7 L795.9,1201.4 L799.4,1205.8 L803.0,1209.9 L806.5,1213.8 L810.0,1217.6 L813.5,1221.2 L817.0,1224.5 L820.6,1227.4 L824.1,1230.0 L827.6,1232.2 L831.1,1233.9 L834.7,1234.9 L838.2,1235.4 L841.7,1235.6 L845.2,1235.4 L848.7,1234.9 L852.3,1234.2 L855.8,1233.8 L859.3,1233.7 L862.8,1233.9 L866.4,1234.4 L869.9,1234.8 L873.4,1235.2 L876.9,1235.4 L880.4,1235.4 L884.0,1235.3 L887.5,1235.1 L891.0,1235.0 L894.5,1235.0 L898.1,1235.1 L901.6,1235.5 L905.1,1235.9 L908.6,1236.2 L912.1,1236.5 L915.7,1236.6 L919.2,1236.5 L922.7,1236.1 L926.2,1235.6 L929.8,1235.1 L933.3,1234.7 L936.8,1234.6 L940.3,1234.8 L943.8,1235.3 L947.4,1236.1 L950.9,1236.9 L954.4,1237.8 L957.9,1238.4 L961.5,1238.9 L965.0,1239.2 L968.5,1239.2 L972.0,1239.1 L975.5,1239.0 L979.1,1238.9 L982.6,1239.0 L986.1,1239.2 L989.6,1239.4 L993.1,1239.5 L996.7,1239.5 L1000.2,1239.3 L1003.7,1238.8 L1007.2,1238.1 L1010.8,1237.2 L1014.3,1236.3 L1017.8,1235.6 L1021.3,1235.2 L1024.8,1235.2 L1028.4,1235.5 L1031.9,1236.0 L1035.4,1236.8 L1038.9,1237.7 L1042.5,1238.5 L1046.0,1239.2 L1049.5,1239.7 L1053.0,1240.1 L1056.5,1240.5 L1060.1,1240.9 L1063.6,1241.4 L1067.1,1242.0 L1070.6,1242.8 L1074.2,1243.6 L1077.7,1244.4 L1081.2,1244.9 L1084.7,1245.1 L1088.2,1245.1 L1091.8,1244.7 L1095.3,1244.0 L1098.8,1243.3 L1102.3,1242.6 L1105.9,1242.1 L1109.4,1241.8 L1112.9,1241.7 L1116.4,1241.9 L1119.9,1242.2 L1123.5,1242.4 L1127.0,1242.5 L1130.5,1242.4 L1134.0,1242.1 L1137.6,1241.7 L1141.1,1241.2 L1144.6,1240.7 L1148.1,1240.3 L1151.6,1240.1 L1155.2,1240.0 L1158.7,1239.9 L1162.2,1239.8 L1165.7,1239.6 L1169.3,1239.1 L1172.8,1238.3 L1176.3,1237.2 L1179.8,1236.0 L1183.3,1234.8 L1186.9,1233.7 L1190.4,1232.8 L1193.9,1232.3 L1197.4,1232.1 L1201.0,1232.2 L1204.5,1232.6 L1208.0,1233.0 L1211.5,1233.4 L1215.0,1233.8 L1218.6,1234.0 L1222.1,1234.2 L1225.6,1234.4 L1229.1,1234.7 L1232.7,1235.2 L1236.2,1235.9 L1239.7,1236.7 L1243.2,1237.6 L1246.7,1238.5 L1250.3,1239.2 L1253.8,1239.6 L1257.3,1239.6 L1260.8,1239.3 L1264.4,1238.8 L1267.9,1238.1 L1271.4,1237.4 L1274.9,1236.9 L1278.4,1236.6 L1282.0,1236.5 L1285.5,1236.7 L1289.0,1236.9 L1292.5,1237.2 L1296.0,1237.4 L1299.6,1237.4 L1303.1,1237.3 L1306.6,1237.1 L1310.1,1237.0 L1313.7,1236.9 L1317.2,1237.0 L1320.7,1237.4 L1324.2,1238.0 L1327.7,1238.6 L1331.3,1239.3 L1334.8,1239.8 L1338.3,1240.1 L1341.8,1240.1 L1345.4,1239.8 L1348.9,1239.3 L1352.4,1238.7 L1355.9,1238.1 L1359.4,1237.8 L1363.0,1237.7 L1366.5,1237.9 L1370.0,1238.3"/>
<path d="M172.5,1138.2 L176.0,1137.7 L179.5,1137.0 L183.1,1136.2 L186.6,1135.2 L190.1,1133.9 L193.6,1132.4 L197.2,1130.6 L200.7,1128.6 L204.2,1126.3 L207.7,1123.8 L211.2,1120.9 L214.8,1117.7 L218.3,1114.3 L221.8,1110.5 L225.3,1106.5 L228.9,1102.3 L232.4,1097.8 L235.9,1093.1 L239.4,1088.3 L242.9,1083.3 L246.5,1078.2 L250.0,1073.1 L253.5,1067.9 L257.0,1062.9 L260.6,1057.9 L264.1,1053.0 L267.6,1048.4 L271.1,1043.9 L274.6,1039.8 L278.2,1036.0 L281.7,1032.5 L285.2,1029.4 L288.7,1026.6 L292.3,1024.3 L295.8,1022.4 L299.3,1021.0 L302.8,1020.2 L306.3,1019.9 L309.9,1020.1 L313.4,1020.6 L316.9,1021.5 L320.4,1022.6 L324.0,1023.8 L327.5,1025.0 L331.0,1026.1 L334.5,1027.1 L338.0,1027.8 L341.6,1028.2 L345.1,1028.1 L348.6,1027.6 L352.1,1026.5 L355.6,1024.8 L359.2,1022.5 L362.7,1019.5 L366.2,1015.9 L369.7,1011.6 L373.3,1006.6 L376.8,1000.9 L380.3,994.6 L383.8,987.7 L387.3,980.2 L390.9,972.2 L394.4,963.6 L397.9,954.5 L401.4,945.0 L405.0,935.1 L408.5,924.8 L412.0,914.1 L415.5,903.2 L419.0,892.0 L422.6,880.6 L426.1,869.0 L429.6,857.3 L433.1,845.4 L436.7,833.5 L440.2,821.6 L443.7,809.6 L447.2,797.7 L450.7,785.9 L454.3,774.3 L457.8,762.7 L461.3,751.4 L464.8,740.3 L468.4,729.5 L471.9,719.0 L475.4,708.8 L478.9,699.0 L482.4,689.6 L486.0,680.7 L489.5,672.2 L493.0,664.3 L496.5,656.9 L500.1,650.0 L503.6,643.8 L507.1,638.2 L510.6,633.2 L514.1,628.9 L517.7,625.4 L521.2,622.5 L524.7,620.3 L528.2,618.7 L531.8,617.8 L535.3,617.5 L538.8,617.7 L542.3,618.3 L545.8,619.4 L549.4,621.1 L552.9,623.3 L556.4,626.0 L559.9,629.0 L563.5,632.7 L567.0,636.9 L570.5,641.5 L574.0,646.7 L577.5,652.4 L581.1,658.6 L584.6,665.4 L588.1,672.7 L591.6,680.5 L595.2,688.7 L598.7,697.3 L602.2,706.3 L605.7,715.6 L609.2,725.1 L612.8,734.8 L616.3,745.1 L619.8,756.0 L623.3,767.2 L626.9,778.7 L630.4,790.2 L633.9,802.0 L637.4,814.0 L640.9,826.0 L644.5,838.1 L648.0,850.4 L651.5,862.6 L655.0,874.6 L658.5,886.0 L662.1,897.0 L665.6,907.9 L669.1,919.4 L672.6,931.7 L676.2,944.7 L679.7,957.7 L683.2,970.5 L686.7,982.6 L690.2,994.3 L693.8,1005.9 L697.3,1017.1 L700.8,1028.0 L704.3,1038.5 L707.9,1048.7 L711.4,1058.6 L714.9,1068.3 L718.4,1077.7 L721.9,1086.9 L725.5,1095.8 L729.0,1104.4 L732.5,1112.8 L736.0,1120.9 L739.6,1128.6 L743.1,1135.9 L746.6,1142.7 L750.1,1148.9 L753.6,1154.0 L757.2,1158.5 L760.7,1162.8 L764.2,1167.2 L767.7,1171.5 L771.3,1175.4 L774.8,1178.9 L778.3,1182.2 L781.8,1185.1 L785.3,1187.7 L788.9,1190.1 L792.4,1192.4 L795.9,1194.6 L799.4,1196.7 L803.0,1198.6 L806.5,1200.5 L810.0,1202.5 L813.5,1204.6 L817.0,1206.6 L820.6,1208.4 L824.1,1210.1 L827.6,1211.6 L831.1,1213.0 L834.7,1214.3 L838.2,1215.7 L841.7,1217.2 L845.2,1219.0 L848.7,1220.8 L852.3,1222.3 L855.8,1223.5 L859.3,1224.4 L862.8,1225.0 L866.4,1225.2 L869.9,1225.0 L873.4,1224.5 L876.9,1223.9 L880.4,1223.2 L884.0,1222.6 L887.5,1222.2 L891.0,1221.9 L894.5,1221.8 L898.1,1221.7 L901.6,1221.5 L905.1,1221.1 L908.6,1220.6 L912.1,1220.0 L915.7,1219.3 L919.2,1218.6 L922.7,1218.1 L926.2,1217.8 L929.8,1217.8 L933.3,1218.0 L936.8,1218.2 L940.3,1218.5 L943.8,1218.6 L947.4,1218.5 L950.9,1218.1 L954.4,1217.4 L957.9,1216.5 L961.5,1215.5 L965.0,1214.6 L968.5,1213.8 L972.0,1213.4 L975.5,1213.1 L979.1,1213.1 L982.6,1213.1 L986.1,1213.2 L989.6,1213.2 L993.1,1213.2 L996.7,1213.0 L1000.2,1212.9 L1003.7,1212.8 L1007.2,1213.0 L1010.8,1213.4 L1014.3,1214.1 L1017.8,1215.0 L1021.3,1216.1 L1024.8,1217.1 L1028.4,1218.0 L1031.9,1218.5 L1035.4,1218.8 L1038.9,1218.7 L1042.5,1218.3 L1046.0,1217.8 L1049.5,1217.2 L1053.0,1216.7 L1056.5,1216.4 L1060.1,1216.2 L1063.6,1216.0 L1067.1,1216.0 L1070.6,1215.8 L1074.2,1215.5 L1077.7,1215.1 L1081.2,1214.5 L1084.7,1214.0 L1088.2,1213.5 L1091.8,1213.2 L1095.3,1213.3 L1098.8,1213.6 L1102.3,1214.3 L1105.9,1215.2 L1109.4,1216.1 L1112.9,1216.9 L1116.4,1217.5 L1119.9,1217.9 L1123.5,1218.0 L1127.0,1218.0 L1130.5,1217.8 L1134.0,1217.7 L1137.6,1217.6 L1141.1,1217.8 L1144.6,1218.2 L1148.1,1218.6 L1151.6,1219.1 L1155.2,1219.5 L1158.7,1219.8 L1162.2,1219.8 L1165.7,1219.8 L1169.3,1219.7 L1172.8,1219.6 L1176.3,1219.7 L1179.8,1220.1 L1183.3,1220.8 L1186.9,1221.6 L1190.4,1222.6 L1193.9,1223.6 L1197.4,1224.4 L1201.0,1225.0 L1204.5,1225.2 L1208.0,1225.1 L1211.5,1224.6 L1215.0,1224.0 L1218.6,1223.3 L1222.1,1222.7 L1225.6,1222.1 L1229.1,1221.6 L1232.7,1221.2 L1236.2,1220.7 L1239.7,1220.1 L1243.2,1219.3 L1246.7,1218.3 L1250.3,1217.2 L1253.8,1216.0 L1257.3,1214.9 L1260.8,1214.0 L1264.4,1213.5 L1267.9,1213.3 L1271.4,1213.5 L1274.9,1213.9 L1278.4,1214.5 L1282.0,1215.0 L1285.5,1215.4 L1289.0,1215.6 L1292.5,1215.6 L1296.0,1215.4 L1299.6,1215.1 L1303.1,1214.9 L1306.6,1214.8 L1310.1,1214.8 L1313.7,1215.0 L1317.2,1215.3 L1320.7,1215.6 L1324.2,1215.7 L1327.7,1215.6 L1331.3,1215.4 L1334.8,1214.9 L1338.3,1214.4 L1341.8,1214.0 L1345.4,1213.7 L1348.9,1213.6 L1352.4,1213.9 L1355.9,1214.5 L1359.4,1215.3 L1363.0,1216.1 L1366.5,1216.9 L1370.0,1217.5"/>
<path d="M172.5,1150.8 L176.0,1150.1 L179.5,1149.2 L183.1,1148.2 L186.6,1147.1 L190.1,1145.7 L193.6,1144.3 L197.2,1142.6 L200.7,1140.8 L204.2,1138.8 L207.7,1136.7 L211.2,1134.4 L214.8,1131.9 L218.3,1129.3 L221.8,1126.6 L225.3,1123.7 L228.9,1120.8 L232.4,1117.7 L235.9,1114.6 L239.4,1111.4 L242.9,1108.2 L246.5,1105.0 L250.0,1101.8 L253.5,1098.6 L257.0,1095.6 L260.6,1092.6 L264.1,1089.7 L267.6,1087.0 L271.1,1084.4 L274.6,1082.0 L278.2,1079.7 L281.7,1077.7 L285.2,1075.9 L288.7,1074.3 L292.3,1072.9 L295.8,1071.8 L299.3,1070.8 L302.8,1070.2 L306.3,1069.7 L309.9,1069.4 L313.4,1069.3 L316.9,1069.4 L320.4,1069.6 L324.0,1069.8 L327.5,1070.1 L331.0,1070.3 L334.5,1070.5 L338.0,1070.7 L341.6,1070.7 L345.1,1070.5 L348.6,1070.1 L352.1,1069.5 L355.6,1068.6 L359.2,1067.5 L362.7,1066.0 L366.2,1064.2 L369.7,1062.0 L373.3,1059.5 L376.8,1056.5 L380.3,1053.2 L383.8,1049.6 L387.3,1045.5 L390.9,1041.1 L394.4,1036.3 L397.9,1031.2 L401.4,1025.7 L405.0,1020.0 L408.5,1013.9 L412.0,1007.6 L415.5,1001.0 L419.0,994.2 L422.6,987.3 L426.1,980.1 L429.6,972.9 L433.1,965.5 L436.7,958.0 L440.2,950.6 L443.7,943.1 L447.2,935.6 L450.7,928.2 L454.3,920.8 L457.8,913.6 L461.3,906.5 L464.8,899.6 L468.4,892.9 L471.9,886.4 L475.4,880.2 L478.9,874.3 L482.4,868.6 L486.0,863.3 L489.5,858.3 L493.0,853.8 L496.5,849.6 L500.1,845.8 L503.6,842.3 L507.1,839.3 L510.6,836.8 L514.1,834.8 L517.7,833.3 L521.2,832.4 L524.7,832.0 L528.2,832.2 L531.8,832.5 L535.3,833.1 L538.8,834.0 L542.3,835.2 L545.8,836.8 L549.4,838.6 L552.9,840.7 L556.4,843.2 L559.9,845.9 L563.5,849.0 L567.0,852.6 L570.5,856.6 L574.0,861.6 L577.5,867.4 L581.1,873.5 L584.6,879.0 L588.1,883.0 L591.6,886.0 L595.2,888.6 L598.7,891.4 L602.2,894.8 L605.7,898.6 L609.2,902.6 L612.8,907.0 L616.3,911.8 L619.8,917.2 L623.3,923.5 L626.9,930.4 L630.4,937.9 L633.9,945.8 L637.4,953.8 L640.9,961.7 L644.5,969.6 L648.0,977.8 L651.5,986.1 L655.0,994.2 L658.5,1001.9 L662.1,1009.1 L665.6,1016.0 L669.1,1023.0 L672.6,1030.5 L676.2,1038.4 L679.7,1046.4 L683.2,1054.3 L686.7,1062.0 L690.2,1069.2 L693.8,1076.2 L697.3,1083.2 L700.8,1090.1 L704.3,1096.8 L707.9,1103.4 L711.4,1109.8 L714.9,1116.0 L718.4,1122.1 L721.9,1128.0 L725.5,1133.7 L729.0,1139.3 L732.5,1144.6 L736.0,1149.9 L739.6,1154.9 L743.1,1159.8 L746.6,1164.4 L750.1,1168.7 L753.6,1172.7 L757.2,1176.0 L760.7,1178.8 L764.2,1181.5 L767.7,1184.3 L771.3,1187.3 L774.8,1190.1 L778.3,1192.8 L781.8,1195.4 L785.3,1198.1 L788.9,1200.8 L792.4,1203.5 L795.9,1206.3 L799.4,1209.1 L803.0,1211.8 L806.5,1214.4 L810.0,1216.8 L813.5,1219.1 L817.0,1221.4 L820.6,1223.7 L824.1,1226.0 L827.6,1228.0 L831.1,1229.9 L834.7,1231.4 L838.2,1232.5 L841.7,1233.1 L845.2,1233.3 L848.7,1233.3 L852.3,1233.2 L855.8,1233.2 L859.3,1233.3 L862.8,1233.6 L866.4,1233.9 L869.9,1234.4 L873.4,1234.9 L876.9,1235.2 L880.4,1235.2 L884.0,1234.9 L887.5,1234.4 L891.0,1233.6 L894.5,1232.8 L898.1,1232.0 L901.6,1231.3 L905.1,1230.7 L908.6,1230.2 L912.1,1229.8 L915.7,1229.3 L919.2,1228.7 L922.7,1227.9 L926.2,1227.0 L929.8,1226.0 L933.3,1225.0 L936.8,1224.2 L940.3,1223.7 L943.8,1223.6 L947.4,1223.8 L950.9,1224.4 L954.4,1225.3 L957.9,1226.2 L961.5,1227.1 L965.0,1227.9 L968.5,1228.5 L972.0,1228.8 L975.5,1229.1 L979.1,1229.3 L982.6,1229.5 L986.1,1229.9 L989.6,1230.4 L993.1,1231.0 L996.7,1231.6 L1000.2,1232.0 L1003.7,1232.3 L1007.2,1232.2 L1010.8,1232.0 L1014.3,1231.5 L1017.8,1230.9 L1021.3,1230.4 L1024.8,1230.1 L1028.4,1230.1 L1031.9,1230.4 L1035.4,1230.9 L1038.9,1231.6 L1042.5,1232.3 L1046.0,1232.9 L1049.5,1233.3 L1053.0,1233.5 L1056.5,1233.5 L1060.1,1233.3 L1063.6,1233.1 L1067.1,1232.9 L1070.6,1232.9 L1074.2,1233.0 L1077.7,1233.3 L1081.2,1233.5 L1084.7,1233.6 L1088.2,1233.6 L1091.8,1233.3 L1095.3,1232.8 L1098.8,1232.1 L1102.3,1231.4 L1105.9,1230.8 L1109.4,1230.5 L1112.9,1230.4 L1116.4,1230.8 L1119.9,1231.4 L1123.5,1232.3 L1127.0,1233.2 L1130.5,1234.1 L1134.0,1234.8 L1137.6,1235.4 L1141.1,1235.7 L1144.6,1235.9 L1148.1,1236.1 L1151.6,1236.3 L1155.2,1236.7 L1158.7,1237.1 L1162.2,1237.5 L1165.7,1237.9 L1169.3,1238.1 L1172.8,1238.0 L1176.3,1237.5 L1179.8,1236.7 L1183.3,1235.7 L1186.9,1234.5 L1190.4,1233.3 L1193.9,1232.3 L1197.4,1231.4 L1201.0,1230.9 L1204.5,1230.7 L1208.0,1230.6 L1211.5,1230.6 L1215.0,1230.5 L1218.6,1230.3 L1222.1,1230.0 L1225.6,1229.5 L1229.1,1228.9 L1232.7,1228.5 L1236.2,1228.1 L1239.7,1227.9 L1243.2,1228.0 L1246.7,1228.1 L1250.3,1228.3 L1253.8,1228.5 L1257.3,1228.4 L1260.8,1228.2 L1264.4,1227.6 L1267.9,1226.9 L1271.4,1226.2 L1274.9,1225.5 L1278.4,1225.0 L1282.0,1224.8 L1285.5,1225.0 L1289.0,1225.5 L1292.5,1226.2 L1296.0,1227.0 L1299.6,1227.9 L1303.1,1228.6 L1306.6,1229.1 L1310.1,1229.6 L1313.7,1229.9 L1317.2,1230.3 L1320.7,1230.8 L1324.2,1231.5 L1327.7,1232.3 L1331.3,1233.1 L1334.8,1234.0 L1338.3,1234.6 L1341.8,1235.0 L1345.4,1235.0 L1348.9,1234.6 L1352.4,1234.0 L1355.9,1233.2 L1359.4,1232.3 L1363.0,1231.5 L1366.5,1231.0 L1370.0,1230.7"/>
<path d="M172.5,1177.6 L176.0,1176.6 L179.5,1175.5 L183.1,1174.3 L186.6,1172.9 L190.1,1171.5 L193.6,1170.0 L197.2,1168.4 L200.7,1166.6 L204.2,1164.8 L207.7,1162.9 L211.2,1160.8 L214.8,1158.7 L218.3,1156.5 L221.8,1154.3 L225.3,1152.0 L228.9,1149.6 L232.4,1147.2 L235.9,1144.7 L239.4,1142.3 L242.9,1139.8 L246.5,1137.4 L250.0,1134.9 L253.5,1132.5 L257.0,1130.2 L260.6,1127.9 L264.1,1125.6 L267.6,1123.5 L271.1,1121.4 L274.6,1119.4 L278.2,1117.5 L281.7,1115.7 L285.2,1114.1 L288.7,1112.5 L292.3,1111.0 L295.8,1109.7 L299.3,1108.6 L302.8,1107.9 L306.3,1107.3 L309.9,1107.0 L313.4,1106.9 L316.9,1107.0 L320.4,1107.2 L324.0,1107.4 L327.5,1107.7 L331.0,1108.0 L334.5,1108.2 L338.0,1108.4 L341.6,1108.4 L345.1,1108.2 L348.6,1107.8 L352.1,1107.1 L355.6,1106.2 L359.2,1105.0 L362.7,1103.5 L366.2,1101.6 L369.7,1099.4 L373.3,1096.9 L376.8,1094.1 L380.3,1090.9 L383.8,1087.4 L387.3,1083.6 L390.9,1079.5 L394.4,1075.2 L397.9,1070.6 L401.4,1065.7 L405.0,1060.6 L408.5,1055.3 L412.0,1049.9 L415.5,1044.3 L419.0,1038.5 L422.6,1032.7 L426.1,1026.7 L429.6,1020.7 L433.1,1014.7 L436.7,1008.6 L440.2,1002.5 L443.7,996.4 L447.2,990.4 L450.7,984.4 L454.3,978.5 L457.8,972.7 L461.3,967.0 L464.8,961.5 L468.4,956.1 L471.9,950.9 L475.4,945.8 L478.9,941.0 L482.4,936.4 L486.0,932.0 L489.5,927.8 L493.0,924.0 L496.5,920.4 L500.1,917.1 L503.6,914.1 L507.1,911.4 L510.6,909.1 L514.1,907.0 L517.7,905.3 L521.2,904.0 L524.7,903.0 L528.2,902.4 L531.8,902.2 L535.3,902.9 L538.8,904.7 L542.3,907.5 L545.8,911.0 L549.4,914.7 L552.9,918.5 L556.4,922.0 L559.9,925.4 L563.5,928.5 L567.0,931.5 L570.5,934.5 L574.0,937.6 L577.5,940.9 L581.1,944.2 L584.6,947.4 L588.1,950.7 L591.6,954.2 L595.2,958.0 L598.7,962.3 L602.2,967.6 L605.7,974.0 L609.2,981.2 L612.8,988.7 L616.3,996.1 L619.8,1003.1 L623.3,1009.4 L626.9,1014.4 L630.4,1018.4 L633.9,1022.0 L637.4,1025.5 L640.9,1029.5 L644.5,1034.4 L648.0,1040.2 L651.5,1046.5 L655.0,1053.2 L658.5,1060.7 L662.1,1069.0 L665.6,1077.8 L669.1,1086.1 L672.6,1093.5 L676.2,1100.4 L679.7,1107.1 L683.2,1113.6 L686.7,1119.9 L690.2,1125.9 L693.8,1131.7 L697.3,1137.3 L700.8,1142.8 L704.3,1148.1 L707.9,1153.2 L711.4,1158.1 L714.9,1162.9 L718.4,1167.5 L721.9,1171.8 L725.5,1175.9 L729.0,1179.7 L732.5,1182.9 L736.0,1185.6 L739.6,1188.0 L743.1,1190.5 L746.6,1193.0 L750.1,1195.2 L753.6,1197.2 L757.2,1199.0 L760.7,1200.7 L764.2,1202.2 L767.7,1203.6 L771.3,1204.9 L774.8,1206.2 L778.3,1207.2 L781.8,1208.1 L785.3,1208.9 L788.9,1209.8 L792.4,1210.6 L795.9,1211.3 L799.4,1211.9 L803.0,1212.4 L806.5,1212.9 L810.0,1213.3 L813.5,1213.8 L817.0,1214.5 L820.6,1215.4 L824.1,1216.3 L827.6,1217.3 L831.1,1218.2 L834.7,1218.9 L838.2,1219.3 L841.7,1219.4 L845.2,1219.1 L848.7,1218.5 L852.3,1217.7 L855.8,1217.0 L859.3,1216.4 L862.8,1215.9 L866.4,1215.6 L869.9,1215.5 L873.4,1215.4 L876.9,1215.2 L880.4,1215.0 L884.0,1214.6 L887.5,1214.1 L891.0,1213.7 L894.5,1213.4 L898.1,1213.3 L901.6,1213.4 L905.1,1213.9 L908.6,1214.7 L912.1,1215.6 L915.7,1216.5 L919.2,1217.2 L922.7,1217.7 L926.2,1217.9 L929.8,1217.8 L933.3,1217.5 L936.8,1217.1 L940.3,1216.7 L943.8,1216.4 L947.4,1216.3 L950.9,1216.3 L954.4,1216.5 L957.9,1216.6 L961.5,1216.6 L965.0,1216.5 L968.5,1216.2 L972.0,1215.7 L975.5,1215.2 L979.1,1214.8 L982.6,1214.5 L986.1,1214.4 L989.6,1214.7 L993.1,1215.1 L996.7,1215.6 L1000.2,1216.0 L1003.7,1216.3 L1007.2,1216.3 L1010.8,1216.0 L1014.3,1215.3 L1017.8,1214.4 L1021.3,1213.4 L1024.8,1212.4 L1028.4,1211.5 L1031.9,1210.8 L1035.4,1210.3 L1038.9,1209.9 L1042.5,1209.5 L1046.0,1209.0 L1049.5,1208.5 L1053.0,1207.9 L1056.5,1207.2 L1060.1,1206.5 L1063.6,1206.0 L1067.1,1205.8 L1070.6,1206.0 L1074.2,1206.5 L1077.7,1207.4 L1081.2,1208.4 L1084.7,1209.6 L1088.2,1210.7 L1091.8,1211.6 L1095.3,1212.3 L1098.8,1212.7 L1102.3,1212.9 L1105.9,1213.0 L1109.4,1213.1 L1112.9,1213.4 L1116.4,1213.7 L1119.9,1214.2 L1123.5,1214.7 L1127.0,1215.2 L1130.5,1215.5 L1134.0,1215.6 L1137.6,1215.5 L1141.1,1215.2 L1144.6,1214.8 L1148.1,1214.5 L1151.6,1214.3 L1155.2,1214.4 L1158.7,1214.8 L1162.2,1215.4 L1165.7,1216.2 L1169.3,1217.0 L1172.8,1217.7 L1176.3,1218.1 L1179.8,1218.2 L1183.3,1218.1 L1186.9,1217.8 L1190.4,1217.3 L1193.9,1216.9 L1197.4,1216.5 L1201.0,1216.3 L1204.5,1216.2 L1208.0,1216.2 L1211.5,1216.1 L1215.0,1215.9 L1218.6,1215.6 L1222.1,1215.0 L1225.6,1214.4 L1229.1,1213.7 L1232.7,1213.1 L1236.2,1212.8 L1239.7,1212.8 L1243.2,1213.1 L1246.7,1213.8 L1250.3,1214.7 L1253.8,1215.7 L1257.3,1216.6 L1260.8,1217.3 L1264.4,1217.8 L1267.9,1218.0 L1271.4,1218.1 L1274.9,1218.0 L1278.4,1217.9 L1282.0,1217.9 L1285.5,1218.0 L1289.0,1218.1 L1292.5,1218.2 L1296.0,1218.1 L1299.6,1217.9 L1303.1,1217.4 L1306.6,1216.6 L1310.1,1215.5 L1313.7,1214.4 L1317.2,1213.3 L1320.7,1212.3 L1324.2,1211.6 L1327.7,1211.2 L1331.3,1211.2 L1334.8,1211.3 L1338.3,1211.5 L1341.8,1211.7 L1345.4,1211.7 L1348.9,1211.5 L1352.4,1211.2 L1355.9,1210.7 L1359.4,1210.2 L1363.0,1209.8 L1366.5,1209.5 L1370.0,1209.5"/>
<path d="M172.5,1179.9 L176.0,1180.0 L179.5,1179.9 L183.1,1179.8 L186.6,1179.5 L190.1,1179.2 L193.6,1178.7 L197.2,1178.2 L200.7,1177.4 L204.2,1176.5 L207.7,1175.5 L211.2,1174.2 L214.8,1172.8 L218.3,1171.1 L221.8,1169.3 L225.3,1167.2 L228.9,1164.9 L232.4,1162.4 L235.9,1159.7 L239.4,1156.8 L242.9,1153.8 L246.5,1150.6 L250.0,1147.4 L253.5,1144.1 L257.0,1140.7 L260.6,1137.4 L264.1,1134.2 L267.6,1131.0 L271.1,1128.0 L274.6,1125.2 L278.2,1122.7 L281.7,1120.4 L285.2,1118.4 L288.7,1116.7 L292.3,1115.4 L295.8,1114.4 L299.3,1113.9 L302.8,1113.9 L306.3,1114.4 L309.9,1115.3 L313.4,1116.5 L316.9,1117.9 L320.4,1119.5 L324.0,1121.2 L327.5,1122.9 L331.0,1124.5 L334.5,1125.9 L338.0,1127.2 L341.6,1128.1 L345.1,1128.7 L348.6,1129.0 L352.1,1128.9 L355.6,1128.4 L359.2,1127.5 L362.7,1126.3 L366.2,1124.7 L369.7,1122.8 L373.3,1120.5 L376.8,1118.0 L380.3,1115.2 L383.8,1112.2 L387.3,1108.9 L390.9,1105.5 L394.4,1102.0 L397.9,1098.3 L401.4,1094.5 L405.0,1090.6 L408.5,1086.7 L412.0,1082.7 L415.5,1078.7 L419.0,1074.7 L422.6,1070.7 L426.1,1066.7 L429.6,1062.7 L433.1,1058.7 L436.7,1054.8 L440.2,1051.0 L443.7,1047.2 L447.2,1043.6 L450.7,1040.0 L454.3,1036.5 L457.8,1033.1 L461.3,1029.9 L464.8,1026.8 L468.4,1023.8 L471.9,1021.0 L475.4,1018.3 L478.9,1015.7 L482.4,1013.4 L486.0,1011.2 L489.5,1009.2 L493.0,1007.3 L496.5,1005.6 L500.1,1004.1 L503.6,1002.8 L507.1,1001.7 L510.6,1000.7 L514.1,999.9 L517.7,999.3 L521.2,998.8 L524.7,998.5 L528.2,998.3 L531.8,998.3 L535.3,998.4 L538.8,998.9 L542.3,999.5 L545.8,1000.4 L549.4,1001.5 L552.9,1002.7 L556.4,1004.0 L559.9,1005.5 L563.5,1007.0 L567.0,1008.6 L570.5,1010.2 L574.0,1011.9 L577.5,1013.7 L581.1,1015.6 L584.6,1017.6 L588.1,1019.8 L591.6,1021.9 L595.2,1024.2 L598.7,1026.7 L602.2,1029.8 L605.7,1033.4 L609.2,1037.5 L612.8,1041.9 L616.3,1046.7 L619.8,1051.9 L623.3,1056.9 L626.9,1061.6 L630.4,1066.2 L633.9,1070.8 L637.4,1075.3 L640.9,1079.7 L644.5,1084.2 L648.0,1088.6 L651.5,1093.0 L655.0,1097.2 L658.5,1101.4 L662.1,1105.6 L665.6,1110.2 L669.1,1115.1 L672.6,1120.2 L676.2,1125.2 L679.7,1130.1 L683.2,1134.6 L686.7,1139.1 L690.2,1143.4 L693.8,1147.6 L697.3,1151.7 L700.8,1155.6 L704.3,1159.4 L707.9,1163.1 L711.4,1166.7 L714.9,1170.1 L718.4,1173.5 L721.9,1176.7 L725.5,1179.9 L729.0,1182.9 L732.5,1185.8 L736.0,1188.5 L739.6,1191.0 L743.1,1193.2 L746.6,1195.0 L750.1,1196.6 L753.6,1198.3 L757.2,1199.9 L760.7,1201.5 L764.2,1202.9 L767.7,1204.0 L771.3,1205.0 L774.8,1205.6 L778.3,1206.1 L781.8,1206.5 L785.3,1206.8 L788.9,1207.0 L792.4,1207.0 L795.9,1207.0 L799.4,1206.9 L803.0,1206.8 L806.5,1206.7 L810.0,1206.5 L813.5,1206.3 L817.0,1206.2 L820.6,1206.0 L824.1,1205.9 L827.6,1205.9 L831.1,1205.9 L834.7,1206.0 L838.2,1206.2 L841.7,1206.4 L845.2,1206.6 L848.7,1206.9 L852.3,1207.3 L855.8,1207.7 L859.3,1208.0 L862.8,1208.4 L866.4,1208.8 L869.9,1209.1 L873.4,1209.4 L876.9,1209.7 L880.4,1210.0 L884.0,1210.3 L887.5,1210.6 L891.0,1210.8 L894.5,1211.1 L898.1,1211.4 L901.6,1211.6 L905.1,1211.9 L908.6,1212.1 L912.1,1212.4 L915.7,1212.6 L919.2,1212.9 L922.7,1213.1 L926.2,1213.4 L929.8,1213.8 L933.3,1214.1 L936.8,1214.4 L940.3,1214.6 L943.8,1214.9 L947.4,1215.0 L950.9,1215.1 L954.4,1215.1 L957.9,1215.0 L961.5,1214.9 L965.0,1214.7 L968.5,1214.5 L972.0,1214.3 L975.5,1214.1 L979.1,1213.8 L982.6,1213.4 L986.1,1212.8 L989.6,1211.9 L993.1,1211.0 L996.7,1210.0 L1000.2,1209.0 L1003.7,1208.1 L1007.2,1207.1 L1010.8,1205.9 L1014.3,1204.7 L1017.8,1203.6 L1021.3,1202.7 L1024.8,1201.9 L1028.4,1201.6 L1031.9,1201.5 L1035.4,1201.8 L1038.9,1202.2 L1042.5,1202.7 L1046.0,1203.2 L1049.5,1203.9 L1053.0,1204.8 L1056.5,1205.8 L1060.1,1206.9 L1063.6,1208.0 L1067.1,1209.2 L1070.6,1210.3 L1074.2,1211.4 L1077.7,1212.4 L1081.2,1213.2 L1084.7,1213.9 L1088.2,1214.6 L1091.8,1215.2 L1095.3,1215.8 L1098.8,1216.6 L1102.3,1217.5 L1105.9,1218.8 L1109.4,1220.5 L1112.9,1222.3 L1116.4,1224.2 L1119.9,1226.0 L1123.5,1227.4 L1127.0,1228.8 L1130.5,1230.2 L1134.0,1231.2 L1137.6,1231.6 L1141.1,1231.3 L1144.6,1230.6 L1148.1,1229.7 L1151.6,1228.7 L1155.2,1227.5 L1158.7,1225.8 L1162.2,1224.2 L1165.7,1223.1 L1169.3,1222.5 L1172.8,1222.1 L1176.3,1221.7 L1179.8,1221.6 L1183.3,1221.9 L1186.9,1222.7 L1190.4,1223.5 L1193.9,1224.2 L1197.4,1224.3 L1201.0,1223.8 L1204.5,1222.9 L1208.0,1221.7 L1211.5,1220.3 L1215.0,1218.9 L1218.6,1217.5 L1222.1,1216.4 L1225.6,1215.6 L1229.1,1214.9 L1232.7,1214.2 L1236.2,1213.7 L1239.7,1213.5 L1243.2,1213.8 L1246.7,1214.7 L1250.3,1215.8 L1253.8,1217.2 L1257.3,1218.5 L1260.8,1219.8 L1264.4,1220.8 L1267.9,1221.5 L1271.4,1222.2 L1274.9,1222.8 L1278.4,1223.5 L1282.0,1224.2 L1285.5,1225.0 L1289.0,1226.4 L1292.5,1228.1 L1296.0,1229.8 L1299.6,1230.7 L1303.1,1231.0 L1306.6,1231.2 L1310.1,1231.4 L1313.7,1231.5 L1317.2,1231.6 L1320.7,1231.6 L1324.2,1231.5 L1327.7,1231.1 L1331.3,1230.4 L1334.8,1229.6 L1338.3,1228.8 L1341.8,1228.2 L1345.4,1227.8 L1348.9,1227.4 L1352.4,1227.1 L1355.9,1226.7 L1359.4,1226.5 L1363.0,1226.2 L1366.5,1226.0 L1370.0,1225.8"/>
<path d="M172.5,1190.3 L176.0,1190.0 L179.5,1189.7 L183.1,1189.3 L186.6,1188.8 L190.1,1188.2 L193.6,1187.5 L197.2,1186.7 L200.7,1185.8 L204.2,1184.8 L207.7,1183.6 L211.2,1182.4 L214.8,1181.0 L218.3,1179.5 L221.8,1177.9 L225.3,1176.2 L228.9,1174.4 L232.4,1172.5 L235.9,1170.5 L239.4,1168.4 L242.9,1166.3 L246.5,1164.2 L250.0,1162.1 L253.5,1160.0 L257.0,1157.9 L260.6,1155.8 L264.1,1153.9 L267.6,1152.0 L271.1,1150.3 L274.6,1148.7 L278.2,1147.2 L281.7,1146.0 L285.2,1144.9 L288.7,1144.0 L292.3,1143.3 L295.8,1142.8 L299.3,1142.4 L302.8,1142.1 L306.3,1142.0 L309.9,1142.1 L313.4,1142.2 L316.9,1142.4 L320.4,1142.7 L324.0,1143.1 L327.5,1143.5 L331.0,1144.0 L334.5,1144.5 L338.0,1145.1 L341.6,1145.6 L345.1,1146.0 L348.6,1146.5 L352.1,1146.9 L355.6,1147.2 L359.2,1147.4 L362.7,1147.6 L366.2,1147.6 L369.7,1147.5 L373.3,1147.3 L376.8,1147.0 L380.3,1146.5 L383.8,1145.9 L387.3,1145.2 L390.9,1144.3 L394.4,1143.3 L397.9,1142.1 L401.4,1140.9 L405.0,1139.5 L408.5,1138.0 L412.0,1136.4 L415.5,1134.7 L419.0,1132.9 L422.6,1131.0 L426.1,1129.0 L429.6,1127.0 L433.1,1124.9 L436.7,1122.7 L440.2,1120.6 L443.7,1118.3 L447.2,1116.1 L450.7,1113.9 L454.3,1111.6 L457.8,1109.4 L461.3,1107.1 L464.8,1104.9 L468.4,1102.8 L471.9,1100.6 L475.4,1098.5 L478.9,1096.5 L482.4,1094.6 L486.0,1092.7 L489.5,1090.8 L493.0,1089.1 L496.5,1087.5 L500.1,1085.9 L503.6,1084.5 L507.1,1083.1 L510.6,1081.8 L514.1,1080.5 L517.7,1079.4 L521.2,1078.4 L524.7,1077.7 L528.2,1077.1 L531.8,1076.9 L535.3,1076.9 L538.8,1077.1 L542.3,1077.5 L545.8,1078.1 L549.4,1078.8 L552.9,1079.7 L556.4,1080.8 L559.9,1082.0 L563.5,1083.4 L567.0,1084.9 L570.5,1086.6 L574.0,1088.4 L577.5,1090.3 L581.1,1092.4 L584.6,1094.5 L588.1,1096.8 L591.6,1099.1 L595.2,1101.6 L598.7,1104.1 L602.2,1106.7 L605.7,1109.6 L609.2,1112.6 L612.8,1115.6 L616.3,1118.7 L619.8,1121.9 L623.3,1125.1 L626.9,1128.4 L630.4,1131.7 L633.9,1135.0 L637.4,1138.2 L640.9,1141.3 L644.5,1144.3 L648.0,1147.5 L651.5,1151.0 L655.0,1154.6 L658.5,1158.3 L662.1,1161.8 L665.6,1165.0 L669.1,1168.2 L672.6,1171.3 L676.2,1174.2 L679.7,1177.1 L683.2,1179.8 L686.7,1182.4 L690.2,1185.0 L693.8,1187.4 L697.3,1189.8 L700.8,1192.0 L704.3,1194.2 L707.9,1196.2 L711.4,1198.1 L714.9,1199.9 L718.4,1201.5 L721.9,1202.8 L725.5,1203.9 L729.0,1205.0 L732.5,1206.1 L736.0,1207.2 L739.6,1208.1 L743.1,1209.0 L746.6,1209.7 L750.1,1210.4 L753.6,1211.1 L757.2,1211.7 L760.7,1212.4 L764.2,1213.0 L767.7,1213.4 L771.3,1213.7 L774.8,1213.7 L778.3,1213.6 L781.8,1213.2 L785.3,1212.7 L788.9,1212.1 L792.4,1211.3 L795.9,1210.5 L799.4,1209.5 L803.0,1208.5 L806.5,1207.5 L810.0,1206.4 L813.5,1205.3 L817.0,1204.1 L820.6,1203.0 L824.1,1202.1 L827.6,1201.3 L831.1,1200.7 L834.7,1200.3 L838.2,1200.1 L841.7,1200.0 L845.2,1200.2 L848.7,1200.5 L852.3,1200.9 L855.8,1201.3 L859.3,1201.6 L862.8,1202.0 L866.4,1202.2 L869.9,1202.5 L873.4,1202.7 L876.9,1202.9 L880.4,1203.1 L884.0,1203.3 L887.5,1203.6 L891.0,1203.7 L894.5,1203.9 L898.1,1204.1 L901.6,1204.3 L905.1,1204.5 L908.6,1204.7 L912.1,1204.9 L915.7,1205.2 L919.2,1205.4 L922.7,1205.6 L926.2,1205.9 L929.8,1206.2 L933.3,1206.5 L936.8,1206.9 L940.3,1207.1 L943.8,1207.4 L947.4,1207.5 L950.9,1207.6 L954.4,1207.5 L957.9,1207.2 L961.5,1206.6 L965.0,1205.9 L968.5,1205.1 L972.0,1204.2 L975.5,1203.3 L979.1,1202.4 L982.6,1201.5 L986.1,1200.4 L989.6,1199.1 L993.1,1198.0 L996.7,1197.0 L1000.2,1196.5 L1003.7,1196.5 L1007.2,1196.5 L1010.8,1196.5 L1014.3,1196.5 L1017.8,1196.5 L1021.3,1196.5 L1024.8,1196.5 L1028.4,1196.5 L1031.9,1196.5 L1035.4,1196.6 L1038.9,1197.9 L1042.5,1199.8 L1046.0,1201.3 L1049.5,1201.6 L1053.0,1201.8 L1056.5,1201.8 L1060.1,1201.9 L1063.6,1202.0 L1067.1,1202.1 L1070.6,1202.4 L1074.2,1203.6 L1077.7,1205.2 L1081.2,1206.9 L1084.7,1208.4 L1088.2,1209.3 L1091.8,1209.6 L1095.3,1209.7 L1098.8,1209.9 L1102.3,1210.2 L1105.9,1211.1 L1109.4,1212.7 L1112.9,1214.8 L1116.4,1216.9 L1119.9,1218.8 L1123.5,1220.2 L1127.0,1221.4 L1130.5,1222.5 L1134.0,1223.4 L1137.6,1223.7 L1141.1,1223.7 L1144.6,1223.7 L1148.1,1223.7 L1151.6,1223.7 L1155.2,1223.0 L1158.7,1221.3 L1162.2,1219.6 L1165.7,1218.7 L1169.3,1218.7 L1172.8,1218.9 L1176.3,1219.1 L1179.8,1219.4 L1183.3,1220.0 L1186.9,1221.2 L1190.4,1222.5 L1193.9,1223.4 L1197.4,1223.5 L1201.0,1222.2 L1204.5,1219.8 L1208.0,1217.0 L1211.5,1214.1 L1215.0,1211.7 L1218.6,1210.2 L1222.1,1209.9 L1225.6,1209.9 L1229.1,1209.9 L1232.7,1209.9 L1236.2,1209.9 L1239.7,1209.9 L1243.2,1209.9 L1246.7,1210.4 L1250.3,1211.2 L1253.8,1212.4 L1257.3,1213.7 L1260.8,1215.0 L1264.4,1216.1 L1267.9,1216.8 L1271.4,1217.1 L1274.9,1216.6 L1278.4,1215.7 L1282.0,1214.7 L1285.5,1214.2 L1289.0,1214.3 L1292.5,1214.6 L1296.0,1215.1 L1299.6,1215.6 L1303.1,1216.7 L1306.6,1218.7 L1310.1,1220.6 L1313.7,1221.6 L1317.2,1222.0 L1320.7,1222.4 L1324.2,1222.6 L1327.7,1222.8 L1331.3,1222.9 L1334.8,1222.6 L1338.3,1221.6 L1341.8,1220.3 L1345.4,1219.0 L1348.9,1218.0 L1352.4,1217.7 L1355.9,1217.5 L1359.4,1217.3 L1363.0,1217.2 L1366.5,1217.1 L1370.0,1217.1"/>
<path d="M172.5,1201.5 L176.0,1202.5 L179.5,1203.4 L183.1,1204.2 L186.6,1205.0 L190.1,1205.6 L193.6,1206.2 L197.2,1206.7 L200.7,1207.2 L204.2,1207.5 L207.7,1207.8 L211.2,1208.0 L214.8,1208.1 L218.3,1208.1 L221.8,1208.0 L225.3,1207.7 L228.9,1207.2 L232.4,1206.6 L235.9,1206.0 L239.4,1205.3 L242.9,1204.7 L246.5,1204.1 L250.0,1203.6 L253.5,1203.3 L257.0,1203.2 L260.6,1203.3 L264.1,1203.6 L267.6,1204.1 L271.1,1204.6 L274.6,1205.1 L278.2,1205.5 L281.7,1205.7 L285.2,1205.7 L288.7,1205.1 L292.3,1204.2 L295.8,1203.0 L299.3,1201.7 L302.8,1200.5 L306.3,1199.6 L309.9,1198.9 L313.4,1198.7 L316.9,1199.1 L320.4,1199.9 L324.0,1200.5 L327.5,1200.8 L331.0,1200.7 L334.5,1200.3 L338.0,1199.8 L341.6,1199.0 L345.1,1198.2 L348.6,1197.3 L352.1,1196.4 L355.6,1195.5 L359.2,1194.7 L362.7,1193.7 L366.2,1192.6 L369.7,1191.8 L373.3,1191.8 L376.8,1193.0 L380.3,1194.8 L383.8,1196.9 L387.3,1198.5 L390.9,1199.4 L394.4,1199.3 L397.9,1199.0 L401.4,1198.5 L405.0,1197.9 L408.5,1197.4 L412.0,1196.9 L415.5,1196.6 L419.0,1196.6 L422.6,1196.8 L426.1,1197.1 L429.6,1197.5 L433.1,1198.0 L436.7,1198.5 L440.2,1199.0 L443.7,1199.4 L447.2,1199.8 L450.7,1200.0 L454.3,1200.1 L457.8,1200.0 L461.3,1199.4 L464.8,1198.6 L468.4,1197.5 L471.9,1196.3 L475.4,1195.0 L478.9,1193.7 L482.4,1192.4 L486.0,1191.3 L489.5,1190.3 L493.0,1189.7 L496.5,1189.3 L500.1,1189.4 L503.6,1189.6 L507.1,1189.9 L510.6,1190.3 L514.1,1190.8 L517.7,1191.3 L521.2,1191.8 L524.7,1192.5 L528.2,1193.4 L531.8,1194.5 L535.3,1195.5 L538.8,1196.4 L542.3,1197.0 L545.8,1197.3 L549.4,1197.0 L552.9,1196.1 L556.4,1195.1 L559.9,1194.5 L563.5,1194.6 L567.0,1194.8 L570.5,1195.2 L574.0,1195.7 L577.5,1196.2 L581.1,1196.9 L584.6,1197.5 L588.1,1198.7 L591.6,1200.3 L595.2,1201.8 L598.7,1202.8 L602.2,1202.9 L605.7,1202.6 L609.2,1202.0 L612.8,1201.4 L616.3,1200.9 L619.8,1200.6 L623.3,1200.7 L626.9,1200.9 L630.4,1201.4 L633.9,1201.9 L637.4,1202.6 L640.9,1203.3 L644.5,1204.0 L648.0,1204.6 L651.5,1205.5 L655.0,1206.5 L658.5,1207.5 L662.1,1208.4 L665.6,1209.0 L669.1,1209.3 L672.6,1209.2 L676.2,1208.9 L679.7,1208.4 L683.2,1207.8 L686.7,1207.1 L690.2,1206.3 L693.8,1205.5 L697.3,1204.6 L700.8,1203.7 L704.3,1202.9 L707.9,1201.8 L711.4,1200.7 L714.9,1199.5 L718.4,1198.7 L721.9,1198.1 L725.5,1197.6 L729.0,1197.0 L732.5,1196.5 L736.0,1196.1 L739.6,1195.7 L743.1,1195.3 L746.6,1195.0 L750.1,1194.7 L753.6,1194.5 L757.2,1194.4 L760.0,1194.4 L760.7,1194.4 L764.2,1194.5 L767.7,1194.7 L771.3,1194.9 L774.8,1195.2 L778.3,1195.5 L781.8,1195.7 L785.3,1195.9 L788.9,1196.0 L790.0,1196.0 L792.4,1196.0 L795.9,1196.0 L799.4,1195.9 L803.0,1195.9 L806.5,1195.9 L810.0,1195.8 L813.5,1195.8 L816.5,1195.8 L817.0,1195.8 L820.6,1195.8 L824.1,1195.9 L827.6,1196.0 L831.1,1196.1 L834.7,1196.2 L838.2,1196.4 L841.7,1196.6 L845.2,1196.7 L848.7,1196.9 L852.3,1197.1 L855.8,1197.3 L859.3,1197.5 L862.8,1197.7 L865.9,1197.9 L866.4,1197.9 L869.9,1198.1 L873.4,1198.4 L876.9,1198.6 L880.4,1198.9 L884.0,1199.2 L887.5,1199.5 L891.0,1199.8 L894.5,1200.1 L898.1,1200.5 L901.6,1200.8 L905.1,1201.0 L908.6,1201.3 L912.1,1201.6 L915.7,1201.8 L919.2,1201.9 L922.7,1202.1 L926.2,1202.2 L929.8,1202.2 L930.3,1202.2 L933.3,1202.1 L936.8,1201.9 L940.3,1201.6 L943.8,1201.1 L947.4,1200.6 L950.9,1200.1 L951.8,1200.0 L954.4,1199.6 L957.9,1198.8 L961.5,1197.9 L965.0,1196.9 L968.5,1195.8 L972.0,1194.7 L975.5,1193.6 L979.1,1192.6 L982.6,1191.8 L984.0,1191.5 L986.1,1191.1 L989.6,1190.4 L993.1,1189.6 L996.7,1188.9 L1000.2,1188.2 L1003.7,1187.5 L1007.2,1186.9 L1010.8,1186.3 L1014.3,1185.9 L1017.8,1185.5 L1021.3,1185.2 L1024.8,1185.0 L1027.0,1185.0 L1028.4,1185.1 L1031.9,1185.8 L1035.4,1187.1 L1038.9,1188.6 L1042.5,1190.1 L1046.0,1191.2 L1048.4,1191.5 L1049.5,1191.6 L1053.0,1191.7 L1056.5,1191.9 L1060.1,1191.9 L1063.6,1192.0 L1067.1,1192.1 L1070.6,1192.2 L1074.2,1192.2 L1077.7,1192.4 L1080.0,1192.5 L1081.2,1192.6 L1084.7,1192.9 L1088.2,1193.4 L1091.8,1193.9 L1094.5,1194.4 L1095.3,1194.6 L1098.8,1195.5 L1102.3,1196.7 L1105.9,1198.1 L1109.4,1199.6 L1112.9,1201.1 L1116.4,1202.5 L1119.9,1203.6 L1123.2,1204.4 L1123.5,1204.4 L1127.0,1205.1 L1130.5,1205.7 L1134.0,1206.3 L1137.6,1206.8 L1141.1,1207.1 L1144.6,1207.2 L1144.6,1207.2 L1148.1,1207.0 L1151.6,1206.6 L1155.2,1206.1 L1158.7,1205.6 L1162.2,1205.2 L1164.7,1205.1 L1165.7,1205.1 L1169.3,1205.6 L1172.8,1206.5 L1176.3,1207.4 L1179.8,1208.1 L1183.0,1208.4 L1183.3,1208.4 L1186.9,1207.9 L1190.4,1206.8 L1193.9,1205.3 L1197.4,1203.9 L1198.9,1203.4 L1201.0,1202.7 L1204.5,1201.4 L1208.0,1200.0 L1211.5,1198.7 L1215.0,1197.5 L1218.6,1196.5 L1220.6,1196.1 L1222.1,1195.8 L1225.6,1195.2 L1229.1,1194.7 L1232.7,1194.3 L1236.2,1194.0 L1238.0,1194.0 L1239.7,1194.1 L1243.2,1195.2 L1246.7,1196.9 L1250.3,1198.9 L1253.8,1200.7 L1256.8,1201.9 L1257.3,1202.1 L1260.8,1203.0 L1264.4,1203.9 L1267.9,1204.7 L1271.4,1205.5 L1274.9,1206.2 L1278.4,1207.0 L1278.4,1207.0 L1282.0,1207.8 L1285.5,1208.7 L1289.0,1209.5 L1292.5,1210.3 L1296.0,1211.1 L1297.2,1211.3 L1299.6,1211.8 L1303.1,1212.6 L1306.6,1213.2 L1310.1,1213.5 L1310.3,1213.5 L1313.7,1213.3 L1317.2,1212.5 L1320.7,1211.5 L1324.2,1210.2 L1327.7,1208.9 L1329.0,1208.4 L1331.3,1207.5 L1334.8,1205.8 L1338.3,1203.7 L1341.8,1201.4 L1345.4,1198.9 L1348.9,1196.2 L1350.7,1194.7 L1352.4,1193.3 L1355.9,1190.2 L1359.4,1187.1 L1363.0,1183.9 L1366.5,1186.8 L1366.6,1186.7 L1367.2,1250.0 L1370.0,1250.0"/>
</g>
<g fill="#000">
<rect x="172" y="43" width="1" height="1199"/>
<rect x="172" y="43" width="1199" height="1"/>
<rect x="1369" y="43" width="2" height="1199"/>
<rect x="172" y="1240" width="1199" height="2"/>
<rect x="312" y="42" width="2" height="23"/>
<rect x="312" y="1219" width="2" height="22"/>
<rect x="453" y="42" width="2" height="23"/>
<rect x="453" y="1219" width="2" height="22"/>
<rect x="594" y="42" width="2" height="23"/>
<rect x="594" y="1219" width="2" height="22"/>
<rect x="735" y="42" width="2" height="23"/>
<rect x="735" y="1219" width="2" height="22"/>
<rect x="875" y="42" width="2" height="23"/>
<rect x="875" y="1219" width="2" height="22"/>
<rect x="1016" y="42" width="2" height="23"/>
<rect x="1016" y="1219" width="2" height="22"/>
<rect x="1157" y="42" width="2" height="23"/>
<rect x="1157" y="1219" width="2" height="22"/>
<rect x="1298" y="42" width="2" height="23"/>
<rect x="1298" y="1219" width="2" height="22"/>
<rect x="172" y="1217.0" width="22" height="1"/>
<rect x="1349" y="1217.0" width="21" height="1"/>
<rect x="172" y="982.0" width="22" height="1"/>
<rect x="1349" y="982.0" width="21" height="1"/>
<rect x="172" y="748.0" width="22" height="1"/>
<rect x="1349" y="748.0" width="21" height="1"/>
<rect x="172" y="513.0" width="22" height="1"/>
<rect x="1349" y="513.0" width="21" height="1"/>
<rect x="172" y="278.0" width="22" height="1"/>
<rect x="1349" y="278.0" width="21" height="1"/>
<rect x="881" y="111" width="1" height="14"/>
<rect x="880" y="809" width="2" height="12"/>
<rect x="993" y="111" width="1" height="14"/>
<rect x="992" y="809" width="2" height="12"/>
<rect x="1104" y="111" width="1" height="14"/>
<rect x="1103" y="809" width="2" height="12"/>
<rect x="1216" y="111" width="1" height="14"/>
<rect x="1215" y="809" width="2" height="12"/>
<rect x="770" y="679" width="14" height="2"/>
<rect x="1314" y="679" width="14" height="2"/>
<rect x="770" y="537" width="14" height="2"/>
<rect x="1314" y="537" width="14" height="2"/>
<rect x="770" y="395" width="14" height="2"/>
<rect x="1314" y="395" width="14" height="2"/>
<rect x="770" y="253" width="14" height="2"/>
<rect x="1314" y="253" width="14" height="2"/>
</g>
<g>
<text x="143" y="1230.7" text-anchor="end" font-size="47">0</text>
<text x="143" y="996.0" text-anchor="end" font-size="47">1</text>
<text x="143" y="761.2" text-anchor="end" font-size="47">2</text>
<text x="143" y="526.5" text-anchor="end" font-size="47">3</text>
<text x="143" y="291.7" text-anchor="end" font-size="47">4</text>
<text x="143" y="57.0" text-anchor="end" font-size="47">5</text>
<text x="172.5" y="1307.5" text-anchor="middle" font-size="46.3">260</text>
<text x="454.3" y="1307.5" text-anchor="middle" font-size="46.3">340</text>
<text x="736.0" y="1307.5" text-anchor="middle" font-size="46.3">420</text>
<text x="1017.8" y="1307.5" text-anchor="middle" font-size="46.3">500</text>
<text x="1299.6" y="1307.5" text-anchor="middle" font-size="46.3">580</text>
<text x="756" y="829.0" text-anchor="end" font-size="38">0</text>
<text x="756" y="687.2" text-anchor="end" font-size="38">1</text>
<text x="756" y="545.4" text-anchor="end" font-size="38">2</text>
<text x="756" y="403.6" text-anchor="end" font-size="38">3</text>
<text x="756" y="261.8" text-anchor="end" font-size="38">4</text>
<text x="756" y="120.0" text-anchor="end" font-size="38">5</text>
<text x="770.5" y="862" text-anchor="middle" font-size="38.5">0</text>
<text x="993.3" y="862" text-anchor="middle" font-size="38.5">0.002</text>
<text x="1216.1" y="862" text-anchor="middle" font-size="38.5">0.004</text>
<text x="532" y="1391" font-size="60">Wavelength (nm)</text>
<text transform="translate(63,697) rotate(-90)" font-size="59">&#952; (mdeg)</text>
</g>
<!-- inset -->
<g fill="#000">
<rect x="770" y="111" width="1" height="711"/>
<rect x="770" y="111" width="558" height="2"/>
<rect x="1327" y="111" width="1" height="711"/>
<rect x="770" y="820" width="558" height="2"/>
</g>
<path d="M770.5,821.0 L776.4,739.0 L782.2,674.3 L787.5,624.6 L793.1,580.9 L815.6,457.2 L838.0,381.8 L860.1,331.4 L882.1,294.9 L937.6,236.1 L993.6,201.2 L1104.7,162.1 L1289.6,131.0" fill="none" stroke="#000" stroke-width="4.4" stroke-linejoin="round"/>
<g fill="#000">
<circle cx="770.5" cy="808.2" r="10.4"/>
<circle cx="776.4" cy="736.1" r="10.4"/>
<circle cx="782.2" cy="690.1" r="10.4"/>
<circle cx="787.5" cy="632.5" r="10.4"/>
<circle cx="793.1" cy="589.6" r="10.4"/>
<circle cx="815.6" cy="458.8" r="10.4"/>
<circle cx="838.0" cy="377.9" r="10.4"/>
<circle cx="860.1" cy="333.1" r="10.4"/>
<circle cx="882.1" cy="308.0" r="10.4"/>
<circle cx="937.6" cy="226.3" r="10.4"/>
<circle cx="993.6" cy="187.4" r="10.4"/>
<circle cx="1104.7" cy="177.5" r="10.4"/>
<circle cx="1289.6" cy="124.5" r="10.4"/>
</g>
<text transform="translate(720,624.6) rotate(-90)" font-size="47.2">&#952; (mdeg) (370 nm)</text>
<text x="885.5" y="918" font-size="47.5">[<tspan font-style="italic" font-family="Liberation Serif">&#946;</tspan>-cyclodextrin]</text>
<text x="873" y="530" font-size="60" font-style="italic">K</text>
<text x="911.5" y="564.5" font-size="39">ass</text>
<text x="974" y="530" font-size="60">=1700 M</text>
<text x="1206" y="495" font-size="40">-1</text>
</svg>
</body></html>
